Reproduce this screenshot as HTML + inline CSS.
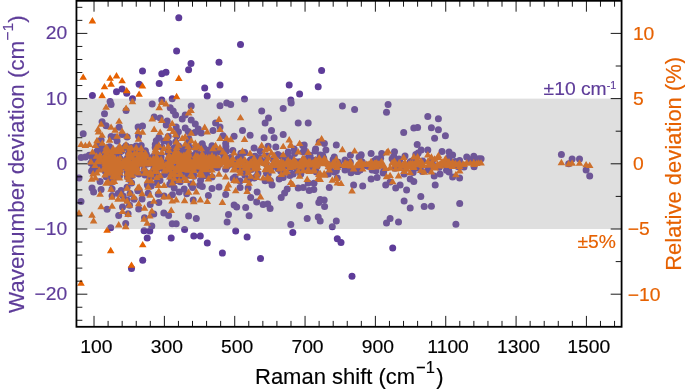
<!DOCTYPE html>
<html><head><meta charset="utf-8"><title>Raman shift deviation</title>
<style>html,body{margin:0;padding:0;background:#fff}body{width:685px;height:389px;overflow:hidden}</style></head>
<body>
<svg width="685" height="389" viewBox="0 0 685 389" style="display:block">
<rect width="685" height="389" fill="#fff"/>
<clipPath id="cp"><rect x="76.45" y="0.80" width="545.13" height="326.00"/></clipPath>
<g clip-path="url(#cp)">
<g fill="#5e3c99">
<circle cx="92.4" cy="95.6" r="3.5"/>
<circle cx="116.5" cy="91.7" r="3.5"/>
<circle cx="83.2" cy="133.8" r="3.5"/>
<circle cx="110.1" cy="101.4" r="3.5"/>
<circle cx="122.1" cy="89.0" r="3.5"/>
<circle cx="111.1" cy="104.6" r="3.5"/>
<circle cx="104.5" cy="113.8" r="3.5"/>
<circle cx="126.7" cy="93.3" r="3.5"/>
<circle cx="102.1" cy="121.8" r="3.5"/>
<circle cx="106.1" cy="125.7" r="3.5"/>
<circle cx="126.1" cy="110.5" r="3.5"/>
<circle cx="119.1" cy="127.3" r="3.5"/>
<circle cx="101.1" cy="140.0" r="3.5"/>
<circle cx="98.1" cy="144.5" r="3.5"/>
<circle cx="111.1" cy="136.6" r="3.5"/>
<circle cx="115.1" cy="136.9" r="3.5"/>
<circle cx="122.1" cy="134.4" r="3.5"/>
<circle cx="102.1" cy="146.2" r="3.5"/>
<circle cx="117.1" cy="140.9" r="3.5"/>
<circle cx="127.1" cy="137.0" r="3.5"/>
<circle cx="79.0" cy="177.9" r="3.5"/>
<circle cx="92.0" cy="188.0" r="3.5"/>
<circle cx="93.6" cy="191.9" r="3.5"/>
<circle cx="101.1" cy="189.5" r="3.5"/>
<circle cx="112.1" cy="195.8" r="3.5"/>
<circle cx="100.1" cy="181.5" r="3.5"/>
<circle cx="107.1" cy="209.2" r="3.5"/>
<circle cx="118.7" cy="215.6" r="3.5"/>
<circle cx="125.7" cy="223.4" r="3.5"/>
<circle cx="122.5" cy="206.9" r="3.5"/>
<circle cx="128.1" cy="213.7" r="3.5"/>
<circle cx="110.7" cy="227.7" r="3.5"/>
<circle cx="127.1" cy="199.9" r="3.5"/>
<circle cx="123.1" cy="196.0" r="3.5"/>
<circle cx="118.1" cy="193.5" r="3.5"/>
<circle cx="112.1" cy="188.9" r="3.5"/>
<circle cx="121.1" cy="190.5" r="3.5"/>
<circle cx="111.1" cy="182.5" r="3.5"/>
<circle cx="127.1" cy="187.3" r="3.5"/>
<circle cx="81.0" cy="201.4" r="3.5"/>
<circle cx="81.1" cy="157.6" r="3.5"/>
<circle cx="85.4" cy="156.9" r="3.5"/>
<circle cx="89.3" cy="155.3" r="3.5"/>
<circle cx="97.0" cy="151.2" r="3.5"/>
<circle cx="95.4" cy="154.2" r="3.5"/>
<circle cx="102.4" cy="151.0" r="3.5"/>
<circle cx="98.5" cy="145.8" r="3.5"/>
<circle cx="91.6" cy="170.9" r="3.5"/>
<circle cx="95.4" cy="171.1" r="3.5"/>
<circle cx="178.8" cy="17.8" r="3.5"/>
<circle cx="176.6" cy="51.1" r="3.5"/>
<circle cx="191.0" cy="63.5" r="3.5"/>
<circle cx="188.6" cy="69.7" r="3.5"/>
<circle cx="142.5" cy="71.1" r="3.5"/>
<circle cx="166.0" cy="72.3" r="3.5"/>
<circle cx="161.8" cy="73.7" r="3.5"/>
<circle cx="139.1" cy="84.2" r="3.5"/>
<circle cx="159.2" cy="83.6" r="3.5"/>
<circle cx="204.7" cy="88.1" r="3.5"/>
<circle cx="132.5" cy="98.7" r="3.5"/>
<circle cx="161.8" cy="100.1" r="3.5"/>
<circle cx="172.2" cy="98.7" r="3.5"/>
<circle cx="152.2" cy="104.1" r="3.5"/>
<circle cx="191.2" cy="106.1" r="3.5"/>
<circle cx="170.2" cy="107.7" r="3.5"/>
<circle cx="173.2" cy="111.1" r="3.5"/>
<circle cx="175.6" cy="115.1" r="3.5"/>
<circle cx="182.2" cy="119.1" r="3.5"/>
<circle cx="185.2" cy="115.1" r="3.5"/>
<circle cx="154.2" cy="117.1" r="3.5"/>
<circle cx="160.2" cy="118.1" r="3.5"/>
<circle cx="167.2" cy="121.1" r="3.5"/>
<circle cx="166.2" cy="125.1" r="3.5"/>
<circle cx="191.2" cy="120.1" r="3.5"/>
<circle cx="195.3" cy="124.1" r="3.5"/>
<circle cx="198.3" cy="129.1" r="3.5"/>
<circle cx="138.1" cy="127.1" r="3.5"/>
<circle cx="142.5" cy="126.1" r="3.5"/>
<circle cx="176.2" cy="127.1" r="3.5"/>
<circle cx="185.2" cy="128.1" r="3.5"/>
<circle cx="201.3" cy="133.1" r="3.5"/>
<circle cx="240.5" cy="44.5" r="3.5"/>
<circle cx="219.0" cy="62.3" r="3.5"/>
<circle cx="321.6" cy="70.5" r="3.5"/>
<circle cx="220.0" cy="85.1" r="3.5"/>
<circle cx="207.2" cy="96.1" r="3.5"/>
<circle cx="289.2" cy="85.1" r="3.5"/>
<circle cx="318.2" cy="86.7" r="3.5"/>
<circle cx="299.6" cy="94.1" r="3.5"/>
<circle cx="244.5" cy="99.1" r="3.5"/>
<circle cx="290.8" cy="100.1" r="3.5"/>
<circle cx="291.2" cy="103.1" r="3.5"/>
<circle cx="226.7" cy="103.1" r="3.5"/>
<circle cx="230.7" cy="104.5" r="3.5"/>
<circle cx="220.0" cy="105.7" r="3.5"/>
<circle cx="283.2" cy="108.5" r="3.5"/>
<circle cx="261.7" cy="111.1" r="3.5"/>
<circle cx="268.5" cy="118.1" r="3.5"/>
<circle cx="265.1" cy="123.1" r="3.5"/>
<circle cx="215.6" cy="123.1" r="3.5"/>
<circle cx="298.2" cy="123.1" r="3.5"/>
<circle cx="308.2" cy="123.1" r="3.5"/>
<circle cx="213.0" cy="130.5" r="3.5"/>
<circle cx="242.5" cy="130.5" r="3.5"/>
<circle cx="271.5" cy="130.5" r="3.5"/>
<circle cx="250.1" cy="135.2" r="3.5"/>
<circle cx="283.2" cy="134.5" r="3.5"/>
<circle cx="234.1" cy="136.2" r="3.5"/>
<circle cx="223.0" cy="135.8" r="3.5"/>
<circle cx="264.1" cy="137.8" r="3.5"/>
<circle cx="274.1" cy="137.8" r="3.5"/>
<circle cx="342.4" cy="106.1" r="3.5"/>
<circle cx="354.6" cy="109.5" r="3.5"/>
<circle cx="388.1" cy="104.5" r="3.5"/>
<circle cx="386.5" cy="112.3" r="3.5"/>
<circle cx="427.8" cy="116.5" r="3.5"/>
<circle cx="438.4" cy="118.7" r="3.5"/>
<circle cx="413.8" cy="128.1" r="3.5"/>
<circle cx="417.6" cy="127.5" r="3.5"/>
<circle cx="431.4" cy="127.7" r="3.5"/>
<circle cx="438.4" cy="129.7" r="3.5"/>
<circle cx="403.7" cy="132.5" r="3.5"/>
<circle cx="445.4" cy="135.8" r="3.5"/>
<circle cx="434.6" cy="138.2" r="3.5"/>
<circle cx="138.7" cy="209.0" r="3.5"/>
<circle cx="150.2" cy="204.4" r="3.5"/>
<circle cx="158.8" cy="202.6" r="3.5"/>
<circle cx="142.1" cy="199.0" r="3.5"/>
<circle cx="153.8" cy="214.1" r="3.5"/>
<circle cx="163.8" cy="213.1" r="3.5"/>
<circle cx="168.6" cy="215.5" r="3.5"/>
<circle cx="172.2" cy="223.7" r="3.5"/>
<circle cx="176.2" cy="223.7" r="3.5"/>
<circle cx="151.8" cy="226.1" r="3.5"/>
<circle cx="144.1" cy="230.7" r="3.5"/>
<circle cx="149.8" cy="231.1" r="3.5"/>
<circle cx="147.2" cy="238.1" r="3.5"/>
<circle cx="171.2" cy="238.1" r="3.5"/>
<circle cx="184.6" cy="229.5" r="3.5"/>
<circle cx="188.6" cy="216.1" r="3.5"/>
<circle cx="196.3" cy="218.5" r="3.5"/>
<circle cx="193.8" cy="236.1" r="3.5"/>
<circle cx="200.3" cy="236.1" r="3.5"/>
<circle cx="142.7" cy="260.2" r="3.5"/>
<circle cx="207.3" cy="243.1" r="3.5"/>
<circle cx="174.2" cy="188.0" r="3.5"/>
<circle cx="179.2" cy="192.0" r="3.5"/>
<circle cx="184.2" cy="189.0" r="3.5"/>
<circle cx="192.6" cy="187.4" r="3.5"/>
<circle cx="202.3" cy="186.6" r="3.5"/>
<circle cx="193.2" cy="200.0" r="3.5"/>
<circle cx="131.5" cy="268.4" r="3.5"/>
<circle cx="212.0" cy="188.6" r="3.5"/>
<circle cx="219.0" cy="187.0" r="3.5"/>
<circle cx="208.4" cy="195.4" r="3.5"/>
<circle cx="225.7" cy="194.6" r="3.5"/>
<circle cx="240.1" cy="187.4" r="3.5"/>
<circle cx="248.1" cy="188.0" r="3.5"/>
<circle cx="257.1" cy="192.0" r="3.5"/>
<circle cx="250.7" cy="197.4" r="3.5"/>
<circle cx="256.7" cy="202.0" r="3.5"/>
<circle cx="263.1" cy="204.6" r="3.5"/>
<circle cx="267.7" cy="204.0" r="3.5"/>
<circle cx="270.1" cy="208.6" r="3.5"/>
<circle cx="234.1" cy="205.0" r="3.5"/>
<circle cx="236.7" cy="207.0" r="3.5"/>
<circle cx="245.7" cy="207.6" r="3.5"/>
<circle cx="228.5" cy="214.5" r="3.5"/>
<circle cx="249.1" cy="215.7" r="3.5"/>
<circle cx="227.1" cy="222.1" r="3.5"/>
<circle cx="235.7" cy="231.1" r="3.5"/>
<circle cx="247.1" cy="237.1" r="3.5"/>
<circle cx="222.4" cy="253.1" r="3.5"/>
<circle cx="260.5" cy="258.5" r="3.5"/>
<circle cx="281.2" cy="197.4" r="3.5"/>
<circle cx="284.6" cy="193.0" r="3.5"/>
<circle cx="287.2" cy="189.0" r="3.5"/>
<circle cx="299.6" cy="205.6" r="3.5"/>
<circle cx="298.2" cy="188.0" r="3.5"/>
<circle cx="303.2" cy="187.4" r="3.5"/>
<circle cx="309.2" cy="190.6" r="3.5"/>
<circle cx="313.8" cy="189.4" r="3.5"/>
<circle cx="329.3" cy="187.4" r="3.5"/>
<circle cx="318.8" cy="202.6" r="3.5"/>
<circle cx="324.2" cy="200.0" r="3.5"/>
<circle cx="324.6" cy="206.6" r="3.5"/>
<circle cx="307.2" cy="218.5" r="3.5"/>
<circle cx="318.2" cy="217.1" r="3.5"/>
<circle cx="320.2" cy="221.1" r="3.5"/>
<circle cx="290.8" cy="224.5" r="3.5"/>
<circle cx="292.8" cy="232.5" r="3.5"/>
<circle cx="332.3" cy="226.7" r="3.5"/>
<circle cx="336.3" cy="221.1" r="3.5"/>
<circle cx="337.3" cy="238.7" r="3.5"/>
<circle cx="272.1" cy="185.0" r="3.5"/>
<circle cx="353.6" cy="185.0" r="3.5"/>
<circle cx="362.7" cy="186.0" r="3.5"/>
<circle cx="385.7" cy="185.0" r="3.5"/>
<circle cx="395.7" cy="188.0" r="3.5"/>
<circle cx="400.1" cy="185.0" r="3.5"/>
<circle cx="406.6" cy="190.0" r="3.5"/>
<circle cx="420.8" cy="196.6" r="3.5"/>
<circle cx="404.1" cy="201.0" r="3.5"/>
<circle cx="410.2" cy="208.0" r="3.5"/>
<circle cx="424.2" cy="206.6" r="3.5"/>
<circle cx="431.4" cy="206.2" r="3.5"/>
<circle cx="459.7" cy="203.6" r="3.5"/>
<circle cx="390.1" cy="218.5" r="3.5"/>
<circle cx="386.5" cy="223.1" r="3.5"/>
<circle cx="398.5" cy="221.9" r="3.5"/>
<circle cx="455.9" cy="224.3" r="3.5"/>
<circle cx="341.0" cy="242.5" r="3.5"/>
<circle cx="392.7" cy="248.1" r="3.5"/>
<circle cx="435.2" cy="185.0" r="3.5"/>
<circle cx="352.0" cy="276.3" r="3.5"/>
<circle cx="442.0" cy="151.6" r="3.5"/>
<circle cx="449.0" cy="152.0" r="3.5"/>
<circle cx="452.6" cy="155.1" r="3.5"/>
<circle cx="459.6" cy="160.5" r="3.5"/>
<circle cx="466.7" cy="157.1" r="3.5"/>
<circle cx="476.7" cy="160.5" r="3.5"/>
<circle cx="481.1" cy="158.7" r="3.5"/>
<circle cx="474.1" cy="166.7" r="3.5"/>
<circle cx="464.0" cy="167.1" r="3.5"/>
<circle cx="449.0" cy="172.1" r="3.5"/>
<circle cx="452.6" cy="177.1" r="3.5"/>
<circle cx="459.6" cy="178.1" r="3.5"/>
<circle cx="440.0" cy="174.1" r="3.5"/>
<circle cx="561.4" cy="154.6" r="3.5"/>
<circle cx="572.1" cy="159.1" r="3.5"/>
<circle cx="568.7" cy="163.7" r="3.5"/>
<circle cx="579.5" cy="159.1" r="3.5"/>
<circle cx="586.1" cy="170.1" r="3.5"/>
<circle cx="589.7" cy="176.1" r="3.5"/>
<circle cx="220.0" cy="127.0" r="3.5"/>
<circle cx="225.7" cy="143.4" r="3.5"/>
<circle cx="304.2" cy="145.0" r="3.5"/>
<circle cx="319.2" cy="142.0" r="3.5"/>
<circle cx="294.2" cy="149.0" r="3.5"/>
<circle cx="325.9" cy="150.1" r="3.5"/>
<circle cx="336.3" cy="145.0" r="3.5"/>
<circle cx="275.8" cy="147.0" r="3.5"/>
<circle cx="254.1" cy="148.0" r="3.5"/>
<circle cx="260.1" cy="151.1" r="3.5"/>
<circle cx="209.0" cy="150.1" r="3.5"/>
<circle cx="219.0" cy="152.1" r="3.5"/>
<circle cx="315.2" cy="151.1" r="3.5"/>
<circle cx="320.2" cy="155.1" r="3.5"/>
<circle cx="235.1" cy="177.1" r="3.5"/>
<circle cx="240.1" cy="181.1" r="3.5"/>
<circle cx="265.1" cy="180.7" r="3.5"/>
<circle cx="279.2" cy="179.1" r="3.5"/>
<circle cx="283.2" cy="177.5" r="3.5"/>
<circle cx="308.2" cy="183.1" r="3.5"/>
<circle cx="320.2" cy="199.5" r="3.5"/>
<circle cx="293.2" cy="174.1" r="3.5"/>
<circle cx="254.1" cy="178.1" r="3.5"/>
<circle cx="212.0" cy="177.1" r="3.5"/>
<circle cx="203.0" cy="173.1" r="3.5"/>
<circle cx="337.3" cy="178.1" r="3.5"/>
<circle cx="328.3" cy="174.1" r="3.5"/>
<circle cx="334.3" cy="157.1" r="3.5"/>
<circle cx="417.2" cy="144.6" r="3.5"/>
<circle cx="421.2" cy="150.1" r="3.5"/>
<circle cx="427.8" cy="150.1" r="3.5"/>
<circle cx="371.1" cy="153.5" r="3.5"/>
<circle cx="361.1" cy="154.7" r="3.5"/>
<circle cx="381.7" cy="153.5" r="3.5"/>
<circle cx="394.5" cy="151.7" r="3.5"/>
<circle cx="399.1" cy="159.1" r="3.5"/>
<circle cx="418.2" cy="153.1" r="3.5"/>
<circle cx="371.1" cy="179.1" r="3.5"/>
<circle cx="377.1" cy="177.5" r="3.5"/>
<circle cx="390.1" cy="182.1" r="3.5"/>
<circle cx="410.2" cy="179.1" r="3.5"/>
<circle cx="413.8" cy="181.5" r="3.5"/>
<circle cx="434.2" cy="176.1" r="3.5"/>
<circle cx="345.0" cy="170.1" r="3.5"/>
<circle cx="351.0" cy="172.7" r="3.5"/>
<circle cx="334.4" cy="172.1" r="3.5"/>
<circle cx="357.1" cy="171.5" r="3.5"/>
<circle cx="372.1" cy="170.1" r="3.5"/>
<circle cx="383.1" cy="173.1" r="3.5"/>
<circle cx="404.1" cy="174.1" r="3.5"/>
<circle cx="428.2" cy="170.1" r="3.5"/>
<circle cx="129.5" cy="205.2" r="3.5"/>
<circle cx="144.5" cy="217.7" r="3.5"/>
<circle cx="134.1" cy="199.3" r="3.5"/>
<circle cx="130.1" cy="193.4" r="3.5"/>
<circle cx="139.1" cy="190.3" r="3.5"/>
<circle cx="148.2" cy="193.3" r="3.5"/>
<circle cx="456.0" cy="165.3" r="3.5"/>
<circle cx="95.1" cy="164.5" r="3.5"/>
<circle cx="98.1" cy="161.9" r="3.5"/>
<circle cx="91.0" cy="162.9" r="3.5"/>
<circle cx="96.5" cy="159.6" r="3.5"/>
<circle cx="99.3" cy="167.3" r="3.5"/>
<circle cx="104.3" cy="166.1" r="3.5"/>
<circle cx="92.5" cy="158.1" r="3.5"/>
<circle cx="93.1" cy="168.6" r="3.5"/>
<circle cx="98.2" cy="162.5" r="3.5"/>
<circle cx="100.1" cy="158.8" r="3.5"/>
<circle cx="96.9" cy="168.7" r="3.5"/>
<circle cx="100.8" cy="161.5" r="3.5"/>
<circle cx="147.2" cy="163.9" r="3.5"/>
<circle cx="120.1" cy="158.7" r="3.5"/>
<circle cx="182.6" cy="152.4" r="3.5"/>
<circle cx="175.5" cy="173.2" r="3.5"/>
<circle cx="163.7" cy="141.0" r="3.5"/>
<circle cx="188.4" cy="170.1" r="3.5"/>
<circle cx="106.9" cy="160.9" r="3.5"/>
<circle cx="110.6" cy="157.8" r="3.5"/>
<circle cx="144.5" cy="153.5" r="3.5"/>
<circle cx="112.8" cy="166.5" r="3.5"/>
<circle cx="188.1" cy="165.9" r="3.5"/>
<circle cx="141.2" cy="145.5" r="3.5"/>
<circle cx="202.3" cy="160.7" r="3.5"/>
<circle cx="128.4" cy="172.5" r="3.5"/>
<circle cx="105.0" cy="167.1" r="3.5"/>
<circle cx="201.8" cy="146.8" r="3.5"/>
<circle cx="157.2" cy="165.3" r="3.5"/>
<circle cx="196.3" cy="167.9" r="3.5"/>
<circle cx="193.8" cy="176.2" r="3.5"/>
<circle cx="115.1" cy="159.3" r="3.5"/>
<circle cx="125.9" cy="164.3" r="3.5"/>
<circle cx="104.6" cy="160.1" r="3.5"/>
<circle cx="107.2" cy="167.6" r="3.5"/>
<circle cx="130.3" cy="165.3" r="3.5"/>
<circle cx="141.7" cy="150.8" r="3.5"/>
<circle cx="113.3" cy="160.0" r="3.5"/>
<circle cx="189.1" cy="147.0" r="3.5"/>
<circle cx="158.5" cy="160.5" r="3.5"/>
<circle cx="160.0" cy="180.6" r="3.5"/>
<circle cx="192.6" cy="171.1" r="3.5"/>
<circle cx="131.2" cy="157.2" r="3.5"/>
<circle cx="158.9" cy="137.5" r="3.5"/>
<circle cx="138.2" cy="155.7" r="3.5"/>
<circle cx="188.1" cy="159.8" r="3.5"/>
<circle cx="140.9" cy="155.0" r="3.5"/>
<circle cx="107.4" cy="156.4" r="3.5"/>
<circle cx="202.1" cy="144.9" r="3.5"/>
<circle cx="202.0" cy="170.3" r="3.5"/>
<circle cx="127.1" cy="159.1" r="3.5"/>
<circle cx="168.2" cy="152.4" r="3.5"/>
<circle cx="171.2" cy="179.1" r="3.5"/>
<circle cx="113.2" cy="173.7" r="3.5"/>
<circle cx="181.1" cy="149.8" r="3.5"/>
<circle cx="138.5" cy="135.9" r="3.5"/>
<circle cx="203.7" cy="175.7" r="3.5"/>
<circle cx="178.5" cy="153.7" r="3.5"/>
<circle cx="117.5" cy="168.8" r="3.5"/>
<circle cx="119.5" cy="165.5" r="3.5"/>
<circle cx="140.3" cy="160.9" r="3.5"/>
<circle cx="203.6" cy="160.7" r="3.5"/>
<circle cx="158.3" cy="194.2" r="3.5"/>
<circle cx="188.8" cy="157.5" r="3.5"/>
<circle cx="130.3" cy="162.3" r="3.5"/>
<circle cx="131.0" cy="154.2" r="3.5"/>
<circle cx="118.0" cy="152.6" r="3.5"/>
<circle cx="164.1" cy="196.1" r="3.5"/>
<circle cx="155.8" cy="144.7" r="3.5"/>
<circle cx="158.0" cy="166.7" r="3.5"/>
<circle cx="105.0" cy="158.4" r="3.5"/>
<circle cx="178.6" cy="145.9" r="3.5"/>
<circle cx="137.8" cy="190.7" r="3.5"/>
<circle cx="115.4" cy="163.2" r="3.5"/>
<circle cx="183.4" cy="149.2" r="3.5"/>
<circle cx="161.9" cy="147.2" r="3.5"/>
<circle cx="167.1" cy="172.4" r="3.5"/>
<circle cx="156.8" cy="182.8" r="3.5"/>
<circle cx="153.3" cy="156.6" r="3.5"/>
<circle cx="175.9" cy="150.5" r="3.5"/>
<circle cx="161.7" cy="167.5" r="3.5"/>
<circle cx="190.3" cy="157.7" r="3.5"/>
<circle cx="112.0" cy="156.7" r="3.5"/>
<circle cx="184.5" cy="151.6" r="3.5"/>
<circle cx="120.3" cy="169.1" r="3.5"/>
<circle cx="194.6" cy="154.9" r="3.5"/>
<circle cx="205.5" cy="153.3" r="3.5"/>
<circle cx="157.2" cy="156.9" r="3.5"/>
<circle cx="124.6" cy="164.4" r="3.5"/>
<circle cx="161.1" cy="157.0" r="3.5"/>
<circle cx="168.2" cy="161.1" r="3.5"/>
<circle cx="115.3" cy="161.0" r="3.5"/>
<circle cx="132.2" cy="175.5" r="3.5"/>
<circle cx="188.1" cy="156.1" r="3.5"/>
<circle cx="119.8" cy="171.5" r="3.5"/>
<circle cx="113.7" cy="168.2" r="3.5"/>
<circle cx="112.0" cy="177.9" r="3.5"/>
<circle cx="113.1" cy="154.3" r="3.5"/>
<circle cx="150.9" cy="176.9" r="3.5"/>
<circle cx="131.9" cy="167.7" r="3.5"/>
<circle cx="158.3" cy="159.8" r="3.5"/>
<circle cx="109.7" cy="164.9" r="3.5"/>
<circle cx="182.0" cy="157.7" r="3.5"/>
<circle cx="155.6" cy="163.5" r="3.5"/>
<circle cx="130.1" cy="161.8" r="3.5"/>
<circle cx="179.4" cy="155.7" r="3.5"/>
<circle cx="199.9" cy="156.0" r="3.5"/>
<circle cx="188.1" cy="175.2" r="3.5"/>
<circle cx="144.7" cy="161.8" r="3.5"/>
<circle cx="174.7" cy="180.4" r="3.5"/>
<circle cx="176.7" cy="136.1" r="3.5"/>
<circle cx="145.9" cy="159.6" r="3.5"/>
<circle cx="111.8" cy="163.5" r="3.5"/>
<circle cx="113.2" cy="152.0" r="3.5"/>
<circle cx="133.3" cy="169.9" r="3.5"/>
<circle cx="134.5" cy="152.7" r="3.5"/>
<circle cx="131.4" cy="147.4" r="3.5"/>
<circle cx="203.8" cy="161.3" r="3.5"/>
<circle cx="136.2" cy="145.9" r="3.5"/>
<circle cx="104.7" cy="162.6" r="3.5"/>
<circle cx="125.1" cy="162.9" r="3.5"/>
<circle cx="113.7" cy="163.0" r="3.5"/>
<circle cx="135.6" cy="169.7" r="3.5"/>
<circle cx="181.1" cy="173.5" r="3.5"/>
<circle cx="177.6" cy="174.4" r="3.5"/>
<circle cx="205.0" cy="159.1" r="3.5"/>
<circle cx="178.4" cy="131.8" r="3.5"/>
<circle cx="195.6" cy="154.1" r="3.5"/>
<circle cx="179.4" cy="149.6" r="3.5"/>
<circle cx="156.0" cy="147.0" r="3.5"/>
<circle cx="186.7" cy="193.8" r="3.5"/>
<circle cx="174.2" cy="180.9" r="3.5"/>
<circle cx="128.0" cy="158.7" r="3.5"/>
<circle cx="115.3" cy="169.1" r="3.5"/>
<circle cx="168.5" cy="164.2" r="3.5"/>
<circle cx="185.9" cy="162.7" r="3.5"/>
<circle cx="155.9" cy="166.2" r="3.5"/>
<circle cx="179.7" cy="164.9" r="3.5"/>
<circle cx="112.2" cy="166.6" r="3.5"/>
<circle cx="180.0" cy="179.5" r="3.5"/>
<circle cx="153.4" cy="162.2" r="3.5"/>
<circle cx="182.8" cy="167.1" r="3.5"/>
<circle cx="119.6" cy="163.4" r="3.5"/>
<circle cx="162.5" cy="168.4" r="3.5"/>
<circle cx="110.8" cy="169.8" r="3.5"/>
<circle cx="173.5" cy="170.1" r="3.5"/>
<circle cx="152.1" cy="163.6" r="3.5"/>
<circle cx="195.7" cy="147.7" r="3.5"/>
<circle cx="106.4" cy="152.5" r="3.5"/>
<circle cx="150.4" cy="178.3" r="3.5"/>
<circle cx="126.0" cy="145.7" r="3.5"/>
<circle cx="119.0" cy="165.2" r="3.5"/>
<circle cx="188.2" cy="142.8" r="3.5"/>
<circle cx="128.2" cy="166.3" r="3.5"/>
<circle cx="105.0" cy="171.0" r="3.5"/>
<circle cx="118.9" cy="167.5" r="3.5"/>
<circle cx="104.8" cy="160.9" r="3.5"/>
<circle cx="199.1" cy="170.1" r="3.5"/>
<circle cx="196.5" cy="167.3" r="3.5"/>
<circle cx="206.5" cy="150.6" r="3.5"/>
<circle cx="141.4" cy="163.1" r="3.5"/>
<circle cx="115.0" cy="169.2" r="3.5"/>
<circle cx="130.0" cy="147.9" r="3.5"/>
<circle cx="156.7" cy="174.2" r="3.5"/>
<circle cx="194.8" cy="132.5" r="3.5"/>
<circle cx="168.9" cy="142.9" r="3.5"/>
<circle cx="178.0" cy="165.8" r="3.5"/>
<circle cx="179.3" cy="162.4" r="3.5"/>
<circle cx="133.8" cy="172.2" r="3.5"/>
<circle cx="199.1" cy="168.7" r="3.5"/>
<circle cx="135.0" cy="160.1" r="3.5"/>
<circle cx="204.2" cy="165.9" r="3.5"/>
<circle cx="161.4" cy="167.4" r="3.5"/>
<circle cx="121.7" cy="151.0" r="3.5"/>
<circle cx="155.3" cy="144.6" r="3.5"/>
<circle cx="150.5" cy="175.0" r="3.5"/>
<circle cx="124.2" cy="161.0" r="3.5"/>
<circle cx="129.0" cy="168.9" r="3.5"/>
<circle cx="181.0" cy="169.6" r="3.5"/>
<circle cx="143.0" cy="158.7" r="3.5"/>
<circle cx="110.9" cy="163.8" r="3.5"/>
<circle cx="155.9" cy="155.1" r="3.5"/>
<circle cx="132.2" cy="166.3" r="3.5"/>
<circle cx="145.4" cy="150.7" r="3.5"/>
<circle cx="193.6" cy="166.4" r="3.5"/>
<circle cx="107.9" cy="170.2" r="3.5"/>
<circle cx="164.5" cy="174.4" r="3.5"/>
<circle cx="188.8" cy="138.4" r="3.5"/>
<circle cx="203.7" cy="159.9" r="3.5"/>
<circle cx="157.9" cy="156.6" r="3.5"/>
<circle cx="200.6" cy="180.2" r="3.5"/>
<circle cx="151.2" cy="185.9" r="3.5"/>
<circle cx="170.4" cy="159.4" r="3.5"/>
<circle cx="169.5" cy="153.5" r="3.5"/>
<circle cx="116.0" cy="164.3" r="3.5"/>
<circle cx="144.2" cy="163.6" r="3.5"/>
<circle cx="135.3" cy="164.3" r="3.5"/>
<circle cx="202.4" cy="148.5" r="3.5"/>
<circle cx="128.5" cy="153.4" r="3.5"/>
<circle cx="135.9" cy="165.3" r="3.5"/>
<circle cx="155.4" cy="174.3" r="3.5"/>
<circle cx="172.7" cy="156.5" r="3.5"/>
<circle cx="127.7" cy="157.5" r="3.5"/>
<circle cx="174.2" cy="159.7" r="3.5"/>
<circle cx="156.1" cy="173.0" r="3.5"/>
<circle cx="203.5" cy="160.8" r="3.5"/>
<circle cx="127.2" cy="172.7" r="3.5"/>
<circle cx="155.2" cy="147.4" r="3.5"/>
<circle cx="127.4" cy="176.5" r="3.5"/>
<circle cx="119.5" cy="148.4" r="3.5"/>
<circle cx="119.1" cy="161.2" r="3.5"/>
<circle cx="196.2" cy="169.2" r="3.5"/>
<circle cx="199.6" cy="185.3" r="3.5"/>
<circle cx="123.5" cy="166.6" r="3.5"/>
<circle cx="172.4" cy="166.9" r="3.5"/>
<circle cx="121.8" cy="164.2" r="3.5"/>
<circle cx="202.0" cy="156.9" r="3.5"/>
<circle cx="202.9" cy="170.3" r="3.5"/>
<circle cx="188.4" cy="153.3" r="3.5"/>
<circle cx="109.6" cy="146.7" r="3.5"/>
<circle cx="124.3" cy="164.1" r="3.5"/>
<circle cx="146.5" cy="162.3" r="3.5"/>
<circle cx="108.1" cy="160.3" r="3.5"/>
<circle cx="180.8" cy="169.1" r="3.5"/>
<circle cx="139.2" cy="154.1" r="3.5"/>
<circle cx="131.3" cy="169.0" r="3.5"/>
<circle cx="136.9" cy="151.9" r="3.5"/>
<circle cx="198.1" cy="162.1" r="3.5"/>
<circle cx="200.8" cy="162.1" r="3.5"/>
<circle cx="202.2" cy="143.7" r="3.5"/>
<circle cx="144.0" cy="169.7" r="3.5"/>
<circle cx="199.2" cy="159.6" r="3.5"/>
<circle cx="186.4" cy="149.9" r="3.5"/>
<circle cx="166.5" cy="172.9" r="3.5"/>
<circle cx="137.2" cy="162.3" r="3.5"/>
<circle cx="124.7" cy="163.1" r="3.5"/>
<circle cx="108.0" cy="176.2" r="3.5"/>
<circle cx="131.6" cy="156.5" r="3.5"/>
<circle cx="177.0" cy="158.5" r="3.5"/>
<circle cx="128.5" cy="169.8" r="3.5"/>
<circle cx="180.9" cy="167.2" r="3.5"/>
<circle cx="190.3" cy="165.7" r="3.5"/>
<circle cx="162.4" cy="163.1" r="3.5"/>
<circle cx="129.8" cy="167.2" r="3.5"/>
<circle cx="120.2" cy="168.5" r="3.5"/>
<circle cx="145.0" cy="175.1" r="3.5"/>
<circle cx="187.0" cy="163.4" r="3.5"/>
<circle cx="205.7" cy="174.7" r="3.5"/>
<circle cx="190.3" cy="157.9" r="3.5"/>
<circle cx="108.7" cy="161.3" r="3.5"/>
<circle cx="203.8" cy="148.0" r="3.5"/>
<circle cx="192.9" cy="165.5" r="3.5"/>
<circle cx="131.1" cy="155.3" r="3.5"/>
<circle cx="165.4" cy="165.5" r="3.5"/>
<circle cx="126.8" cy="159.9" r="3.5"/>
<circle cx="130.6" cy="169.4" r="3.5"/>
<circle cx="105.7" cy="164.6" r="3.5"/>
<circle cx="136.4" cy="166.6" r="3.5"/>
<circle cx="185.7" cy="155.6" r="3.5"/>
<circle cx="144.9" cy="159.8" r="3.5"/>
<circle cx="169.8" cy="157.6" r="3.5"/>
<circle cx="146.4" cy="154.2" r="3.5"/>
<circle cx="136.0" cy="171.2" r="3.5"/>
<circle cx="141.0" cy="155.0" r="3.5"/>
<circle cx="192.7" cy="170.2" r="3.5"/>
<circle cx="178.8" cy="159.6" r="3.5"/>
<circle cx="105.2" cy="155.3" r="3.5"/>
<circle cx="146.0" cy="172.6" r="3.5"/>
<circle cx="106.1" cy="176.8" r="3.5"/>
<circle cx="113.7" cy="172.4" r="3.5"/>
<circle cx="119.5" cy="175.9" r="3.5"/>
<circle cx="115.7" cy="153.1" r="3.5"/>
<circle cx="124.7" cy="147.6" r="3.5"/>
<circle cx="153.8" cy="169.0" r="3.5"/>
<circle cx="199.0" cy="155.3" r="3.5"/>
<circle cx="188.7" cy="168.0" r="3.5"/>
<circle cx="184.7" cy="173.2" r="3.5"/>
<circle cx="189.2" cy="155.7" r="3.5"/>
<circle cx="126.8" cy="163.9" r="3.5"/>
<circle cx="117.1" cy="174.6" r="3.5"/>
<circle cx="108.8" cy="166.2" r="3.5"/>
<circle cx="190.1" cy="169.5" r="3.5"/>
<circle cx="168.5" cy="167.6" r="3.5"/>
<circle cx="147.4" cy="185.0" r="3.5"/>
<circle cx="150.2" cy="158.5" r="3.5"/>
<circle cx="107.0" cy="162.9" r="3.5"/>
<circle cx="182.5" cy="173.1" r="3.5"/>
<circle cx="152.9" cy="161.8" r="3.5"/>
<circle cx="117.7" cy="160.0" r="3.5"/>
<circle cx="156.6" cy="164.6" r="3.5"/>
<circle cx="179.4" cy="168.1" r="3.5"/>
<circle cx="156.8" cy="169.2" r="3.5"/>
<circle cx="201.6" cy="163.0" r="3.5"/>
<circle cx="192.0" cy="166.3" r="3.5"/>
<circle cx="198.0" cy="162.0" r="3.5"/>
<circle cx="185.0" cy="148.4" r="3.5"/>
<circle cx="181.7" cy="160.4" r="3.5"/>
<circle cx="196.0" cy="161.4" r="3.5"/>
<circle cx="155.8" cy="171.5" r="3.5"/>
<circle cx="125.8" cy="163.4" r="3.5"/>
<circle cx="108.3" cy="154.2" r="3.5"/>
<circle cx="173.9" cy="148.3" r="3.5"/>
<circle cx="116.3" cy="170.5" r="3.5"/>
<circle cx="193.6" cy="174.9" r="3.5"/>
<circle cx="168.8" cy="150.3" r="3.5"/>
<circle cx="185.9" cy="154.3" r="3.5"/>
<circle cx="141.3" cy="164.1" r="3.5"/>
<circle cx="149.7" cy="162.9" r="3.5"/>
<circle cx="188.2" cy="164.9" r="3.5"/>
<circle cx="169.8" cy="184.3" r="3.5"/>
<circle cx="136.5" cy="167.8" r="3.5"/>
<circle cx="108.0" cy="166.6" r="3.5"/>
<circle cx="156.9" cy="154.6" r="3.5"/>
<circle cx="171.2" cy="159.4" r="3.5"/>
<circle cx="104.9" cy="160.9" r="3.5"/>
<circle cx="127.5" cy="168.2" r="3.5"/>
<circle cx="168.2" cy="136.4" r="3.5"/>
<circle cx="129.4" cy="151.4" r="3.5"/>
<circle cx="114.4" cy="177.6" r="3.5"/>
<circle cx="145.6" cy="153.5" r="3.5"/>
<circle cx="161.9" cy="162.1" r="3.5"/>
<circle cx="170.4" cy="153.0" r="3.5"/>
<circle cx="129.9" cy="173.4" r="3.5"/>
<circle cx="109.1" cy="159.1" r="3.5"/>
<circle cx="110.5" cy="162.3" r="3.5"/>
<circle cx="200.6" cy="160.0" r="3.5"/>
<circle cx="156.3" cy="140.8" r="3.5"/>
<circle cx="187.5" cy="164.8" r="3.5"/>
<circle cx="109.5" cy="160.0" r="3.5"/>
<circle cx="105.2" cy="163.7" r="3.5"/>
<circle cx="180.2" cy="181.8" r="3.5"/>
<circle cx="127.6" cy="161.4" r="3.5"/>
<circle cx="138.8" cy="173.9" r="3.5"/>
<circle cx="177.2" cy="174.7" r="3.5"/>
<circle cx="161.1" cy="160.9" r="3.5"/>
<circle cx="131.6" cy="182.9" r="3.5"/>
<circle cx="203.0" cy="162.0" r="3.5"/>
<circle cx="131.1" cy="163.6" r="3.5"/>
<circle cx="180.5" cy="163.2" r="3.5"/>
<circle cx="194.4" cy="168.6" r="3.5"/>
<circle cx="129.0" cy="179.2" r="3.5"/>
<circle cx="172.4" cy="194.7" r="3.5"/>
<circle cx="175.7" cy="156.6" r="3.5"/>
<circle cx="149.2" cy="176.0" r="3.5"/>
<circle cx="119.3" cy="153.1" r="3.5"/>
<circle cx="139.8" cy="153.5" r="3.5"/>
<circle cx="107.5" cy="169.3" r="3.5"/>
<circle cx="175.7" cy="142.1" r="3.5"/>
<circle cx="141.7" cy="153.7" r="3.5"/>
<circle cx="188.2" cy="131.6" r="3.5"/>
<circle cx="197.8" cy="149.1" r="3.5"/>
<circle cx="115.5" cy="162.4" r="3.5"/>
<circle cx="191.0" cy="183.9" r="3.5"/>
<circle cx="169.0" cy="171.9" r="3.5"/>
<circle cx="114.8" cy="166.8" r="3.5"/>
<circle cx="137.1" cy="157.8" r="3.5"/>
<circle cx="133.4" cy="161.1" r="3.5"/>
<circle cx="224.7" cy="157.6" r="3.5"/>
<circle cx="248.5" cy="165.8" r="3.5"/>
<circle cx="208.1" cy="170.1" r="3.5"/>
<circle cx="223.7" cy="155.4" r="3.5"/>
<circle cx="233.1" cy="161.5" r="3.5"/>
<circle cx="246.9" cy="164.3" r="3.5"/>
<circle cx="206.6" cy="161.9" r="3.5"/>
<circle cx="206.8" cy="175.4" r="3.5"/>
<circle cx="230.8" cy="157.6" r="3.5"/>
<circle cx="223.7" cy="151.0" r="3.5"/>
<circle cx="219.4" cy="164.4" r="3.5"/>
<circle cx="241.0" cy="159.7" r="3.5"/>
<circle cx="212.0" cy="145.8" r="3.5"/>
<circle cx="240.9" cy="153.3" r="3.5"/>
<circle cx="237.5" cy="166.5" r="3.5"/>
<circle cx="250.4" cy="160.2" r="3.5"/>
<circle cx="250.3" cy="161.9" r="3.5"/>
<circle cx="251.0" cy="159.4" r="3.5"/>
<circle cx="225.3" cy="161.6" r="3.5"/>
<circle cx="232.8" cy="150.6" r="3.5"/>
<circle cx="243.7" cy="168.5" r="3.5"/>
<circle cx="214.2" cy="154.8" r="3.5"/>
<circle cx="239.2" cy="157.1" r="3.5"/>
<circle cx="244.7" cy="152.4" r="3.5"/>
<circle cx="212.8" cy="160.3" r="3.5"/>
<circle cx="216.0" cy="165.0" r="3.5"/>
<circle cx="241.2" cy="159.2" r="3.5"/>
<circle cx="218.8" cy="160.6" r="3.5"/>
<circle cx="232.3" cy="164.2" r="3.5"/>
<circle cx="254.6" cy="156.5" r="3.5"/>
<circle cx="211.6" cy="154.1" r="3.5"/>
<circle cx="255.0" cy="156.3" r="3.5"/>
<circle cx="242.7" cy="160.7" r="3.5"/>
<circle cx="211.8" cy="156.7" r="3.5"/>
<circle cx="225.7" cy="169.3" r="3.5"/>
<circle cx="240.7" cy="158.0" r="3.5"/>
<circle cx="237.7" cy="158.9" r="3.5"/>
<circle cx="226.5" cy="151.1" r="3.5"/>
<circle cx="251.3" cy="169.6" r="3.5"/>
<circle cx="227.3" cy="166.2" r="3.5"/>
<circle cx="242.1" cy="160.2" r="3.5"/>
<circle cx="248.6" cy="179.8" r="3.5"/>
<circle cx="238.2" cy="165.3" r="3.5"/>
<circle cx="211.4" cy="156.9" r="3.5"/>
<circle cx="245.1" cy="168.6" r="3.5"/>
<circle cx="227.4" cy="165.3" r="3.5"/>
<circle cx="237.2" cy="167.6" r="3.5"/>
<circle cx="244.9" cy="175.2" r="3.5"/>
<circle cx="208.5" cy="162.0" r="3.5"/>
<circle cx="214.5" cy="150.3" r="3.5"/>
<circle cx="211.6" cy="167.7" r="3.5"/>
<circle cx="233.2" cy="178.6" r="3.5"/>
<circle cx="247.4" cy="163.3" r="3.5"/>
<circle cx="226.8" cy="158.6" r="3.5"/>
<circle cx="225.9" cy="146.5" r="3.5"/>
<circle cx="212.6" cy="165.2" r="3.5"/>
<circle cx="220.1" cy="161.6" r="3.5"/>
<circle cx="207.2" cy="169.0" r="3.5"/>
<circle cx="223.9" cy="159.4" r="3.5"/>
<circle cx="217.6" cy="150.2" r="3.5"/>
<circle cx="217.4" cy="167.8" r="3.5"/>
<circle cx="225.9" cy="157.4" r="3.5"/>
<circle cx="315.6" cy="148.9" r="3.5"/>
<circle cx="290.5" cy="158.5" r="3.5"/>
<circle cx="316.3" cy="171.9" r="3.5"/>
<circle cx="296.3" cy="162.1" r="3.5"/>
<circle cx="317.4" cy="160.7" r="3.5"/>
<circle cx="283.6" cy="165.7" r="3.5"/>
<circle cx="287.3" cy="155.5" r="3.5"/>
<circle cx="276.6" cy="162.7" r="3.5"/>
<circle cx="278.1" cy="168.7" r="3.5"/>
<circle cx="304.5" cy="160.0" r="3.5"/>
<circle cx="324.4" cy="143.4" r="3.5"/>
<circle cx="322.7" cy="155.5" r="3.5"/>
<circle cx="266.2" cy="164.1" r="3.5"/>
<circle cx="256.7" cy="164.3" r="3.5"/>
<circle cx="304.3" cy="160.8" r="3.5"/>
<circle cx="273.1" cy="159.2" r="3.5"/>
<circle cx="281.4" cy="156.2" r="3.5"/>
<circle cx="268.2" cy="174.0" r="3.5"/>
<circle cx="300.7" cy="174.3" r="3.5"/>
<circle cx="314.0" cy="183.3" r="3.5"/>
<circle cx="270.4" cy="180.7" r="3.5"/>
<circle cx="288.2" cy="166.3" r="3.5"/>
<circle cx="296.8" cy="162.6" r="3.5"/>
<circle cx="292.2" cy="160.3" r="3.5"/>
<circle cx="290.3" cy="168.2" r="3.5"/>
<circle cx="295.7" cy="162.1" r="3.5"/>
<circle cx="256.3" cy="176.8" r="3.5"/>
<circle cx="305.0" cy="160.0" r="3.5"/>
<circle cx="283.5" cy="161.1" r="3.5"/>
<circle cx="302.9" cy="163.9" r="3.5"/>
<circle cx="257.9" cy="173.4" r="3.5"/>
<circle cx="293.5" cy="161.9" r="3.5"/>
<circle cx="308.9" cy="164.6" r="3.5"/>
<circle cx="280.8" cy="171.2" r="3.5"/>
<circle cx="294.6" cy="153.5" r="3.5"/>
<circle cx="271.4" cy="167.9" r="3.5"/>
<circle cx="316.9" cy="160.1" r="3.5"/>
<circle cx="317.0" cy="166.5" r="3.5"/>
<circle cx="293.2" cy="163.0" r="3.5"/>
<circle cx="304.2" cy="167.5" r="3.5"/>
<circle cx="277.9" cy="154.4" r="3.5"/>
<circle cx="302.7" cy="145.6" r="3.5"/>
<circle cx="321.2" cy="161.0" r="3.5"/>
<circle cx="259.5" cy="159.9" r="3.5"/>
<circle cx="323.9" cy="162.5" r="3.5"/>
<circle cx="304.4" cy="150.0" r="3.5"/>
<circle cx="301.4" cy="171.0" r="3.5"/>
<circle cx="307.3" cy="166.0" r="3.5"/>
<circle cx="305.1" cy="165.7" r="3.5"/>
<circle cx="312.1" cy="162.3" r="3.5"/>
<circle cx="313.0" cy="160.1" r="3.5"/>
<circle cx="304.2" cy="159.3" r="3.5"/>
<circle cx="297.3" cy="170.0" r="3.5"/>
<circle cx="278.1" cy="164.8" r="3.5"/>
<circle cx="303.2" cy="152.1" r="3.5"/>
<circle cx="259.9" cy="157.4" r="3.5"/>
<circle cx="315.7" cy="161.5" r="3.5"/>
<circle cx="323.7" cy="158.3" r="3.5"/>
<circle cx="299.5" cy="161.8" r="3.5"/>
<circle cx="328.3" cy="164.6" r="3.5"/>
<circle cx="303.4" cy="161.7" r="3.5"/>
<circle cx="267.0" cy="155.9" r="3.5"/>
<circle cx="264.8" cy="162.3" r="3.5"/>
<circle cx="262.3" cy="161.4" r="3.5"/>
<circle cx="308.9" cy="162.2" r="3.5"/>
<circle cx="310.0" cy="155.3" r="3.5"/>
<circle cx="308.5" cy="156.9" r="3.5"/>
<circle cx="309.7" cy="167.8" r="3.5"/>
<circle cx="289.8" cy="175.4" r="3.5"/>
<circle cx="274.6" cy="163.2" r="3.5"/>
<circle cx="256.9" cy="164.5" r="3.5"/>
<circle cx="316.2" cy="165.6" r="3.5"/>
<circle cx="268.1" cy="146.2" r="3.5"/>
<circle cx="291.7" cy="166.8" r="3.5"/>
<circle cx="288.2" cy="152.1" r="3.5"/>
<circle cx="266.5" cy="173.2" r="3.5"/>
<circle cx="380.6" cy="158.2" r="3.5"/>
<circle cx="360.9" cy="155.8" r="3.5"/>
<circle cx="375.5" cy="165.3" r="3.5"/>
<circle cx="334.6" cy="165.1" r="3.5"/>
<circle cx="356.5" cy="170.4" r="3.5"/>
<circle cx="408.7" cy="165.8" r="3.5"/>
<circle cx="364.3" cy="165.0" r="3.5"/>
<circle cx="360.1" cy="170.1" r="3.5"/>
<circle cx="395.0" cy="168.2" r="3.5"/>
<circle cx="329.8" cy="167.8" r="3.5"/>
<circle cx="395.7" cy="160.2" r="3.5"/>
<circle cx="333.1" cy="159.6" r="3.5"/>
<circle cx="375.9" cy="170.7" r="3.5"/>
<circle cx="398.5" cy="166.6" r="3.5"/>
<circle cx="357.7" cy="171.4" r="3.5"/>
<circle cx="374.5" cy="160.7" r="3.5"/>
<circle cx="405.0" cy="156.1" r="3.5"/>
<circle cx="378.8" cy="165.6" r="3.5"/>
<circle cx="350.3" cy="162.2" r="3.5"/>
<circle cx="393.7" cy="156.3" r="3.5"/>
<circle cx="392.1" cy="158.8" r="3.5"/>
<circle cx="376.6" cy="159.0" r="3.5"/>
<circle cx="368.2" cy="166.2" r="3.5"/>
<circle cx="345.0" cy="160.0" r="3.5"/>
<circle cx="359.0" cy="156.9" r="3.5"/>
<circle cx="362.2" cy="162.1" r="3.5"/>
<circle cx="410.3" cy="161.8" r="3.5"/>
<circle cx="338.3" cy="162.2" r="3.5"/>
<circle cx="378.0" cy="165.2" r="3.5"/>
<circle cx="399.7" cy="160.1" r="3.5"/>
<circle cx="375.6" cy="162.0" r="3.5"/>
<circle cx="406.2" cy="167.2" r="3.5"/>
<circle cx="395.9" cy="162.9" r="3.5"/>
<circle cx="345.9" cy="161.6" r="3.5"/>
<circle cx="336.4" cy="170.8" r="3.5"/>
<circle cx="366.7" cy="165.8" r="3.5"/>
<circle cx="403.3" cy="166.3" r="3.5"/>
<circle cx="339.4" cy="165.3" r="3.5"/>
<circle cx="350.5" cy="169.6" r="3.5"/>
<circle cx="383.8" cy="171.0" r="3.5"/>
<circle cx="347.6" cy="165.6" r="3.5"/>
<circle cx="350.4" cy="155.3" r="3.5"/>
<circle cx="448.8" cy="168.1" r="3.5"/>
<circle cx="446.5" cy="170.3" r="3.5"/>
<circle cx="413.1" cy="172.6" r="3.5"/>
<circle cx="445.1" cy="164.4" r="3.5"/>
<circle cx="437.6" cy="166.0" r="3.5"/>
<circle cx="415.4" cy="162.9" r="3.5"/>
<circle cx="432.6" cy="160.6" r="3.5"/>
<circle cx="421.5" cy="163.1" r="3.5"/>
<circle cx="443.4" cy="163.4" r="3.5"/>
<circle cx="412.2" cy="161.0" r="3.5"/>
<circle cx="417.0" cy="154.8" r="3.5"/>
<circle cx="449.1" cy="157.2" r="3.5"/>
<circle cx="431.2" cy="160.7" r="3.5"/>
<circle cx="439.3" cy="167.2" r="3.5"/>
<circle cx="420.7" cy="164.0" r="3.5"/>
<circle cx="417.2" cy="168.1" r="3.5"/>
<circle cx="422.7" cy="160.9" r="3.5"/>
<circle cx="449.0" cy="160.0" r="3.5"/>
<circle cx="418.2" cy="166.6" r="3.5"/>
<circle cx="415.8" cy="154.5" r="3.5"/>
<circle cx="413.2" cy="164.3" r="3.5"/>
<circle cx="432.4" cy="165.4" r="3.5"/>
<circle cx="422.4" cy="171.4" r="3.5"/>
<circle cx="415.0" cy="161.7" r="3.5"/>
<circle cx="443.8" cy="163.7" r="3.5"/>
<circle cx="455.3" cy="161.5" r="3.5"/>
<circle cx="417.0" cy="166.4" r="3.5"/>
<circle cx="448.6" cy="161.0" r="3.5"/>
<circle cx="478.7" cy="158.7" r="3.5"/>
<circle cx="470.4" cy="159.7" r="3.5"/>
<circle cx="473.8" cy="156.2" r="3.5"/>
<circle cx="458.2" cy="166.7" r="3.5"/>
<circle cx="463.0" cy="165.9" r="3.5"/>
</g>
<g fill="#e66101">
<path d="M92.4 17.1L96.2 23.5H88.6ZM116.5 72.0L120.3 78.4H112.7ZM83.2 73.4L87.0 79.8H79.4ZM110.1 74.4L113.9 80.8H106.3ZM122.1 76.9L125.9 83.3H118.3ZM111.1 80.3L114.9 86.7H107.3ZM104.5 82.9L108.3 89.3H100.7ZM126.7 86.9L130.5 93.3H122.9ZM102.1 91.8L105.9 98.2H98.3ZM106.1 103.4L109.9 109.8H102.3ZM126.1 104.4L129.9 110.8H122.3ZM119.1 117.4L122.9 123.8H115.3ZM101.1 120.4L104.9 126.8H97.3ZM98.1 125.4L101.9 131.8H94.3ZM111.1 123.4L114.9 129.8H107.3ZM115.1 126.4L118.9 132.8H111.3ZM122.1 127.4L125.9 133.8H118.3ZM102.1 131.4L105.9 137.8H98.3ZM117.1 132.4L120.9 138.8H113.3ZM127.1 132.4L130.9 138.8H123.3ZM79.0 209.3L82.8 215.7H75.2ZM92.0 211.3L95.8 217.7H88.2ZM93.6 217.0L97.4 223.4H89.8ZM101.1 202.9L104.9 209.3H97.3ZM112.1 202.3L115.9 208.7H108.3ZM100.1 190.3L103.9 196.7H96.3ZM107.1 226.4L110.9 232.8H103.3ZM118.7 221.0L122.5 227.4H114.9ZM125.7 222.8L129.5 229.2H121.9ZM122.5 207.7L126.3 214.1H118.7ZM128.1 210.7L131.9 217.1H124.3ZM110.7 246.8L114.5 253.2H106.9ZM127.1 197.3L130.9 203.7H123.3ZM123.1 195.3L126.9 201.7H119.3ZM118.1 195.3L121.9 201.7H114.3ZM112.1 193.3L115.9 199.7H108.3ZM121.1 190.3L124.9 196.7H117.3ZM111.1 185.3L114.9 191.7H107.3ZM127.1 184.3L130.9 190.7H123.3ZM81.0 279.4L84.8 285.8H77.2ZM81.1 140.5L84.9 146.9H77.3ZM85.4 141.7L89.2 148.1H81.6ZM89.3 140.5L93.1 146.9H85.5ZM97.0 136.8L100.8 143.2H93.2ZM95.4 141.7L99.2 148.1H91.6ZM102.4 139.4L106.2 145.8H98.6ZM98.5 128.2L102.3 134.6H94.7ZM91.6 175.3L95.4 181.7H87.8ZM95.4 174.1L99.2 180.5H91.6ZM178.8 74.5L182.6 80.9H175.0ZM176.6 92.8L180.4 99.2H172.8ZM191.0 106.7L194.8 113.1H187.2ZM188.6 109.1L192.4 115.5H184.8ZM142.5 82.2L146.3 88.6H138.7ZM166.0 100.0L169.8 106.4H162.2ZM161.8 98.5L165.6 104.9H158.0ZM139.1 90.4L142.9 96.8H135.3ZM159.2 103.9L163.0 110.3H155.4ZM204.7 123.5L208.5 129.9H200.9ZM132.5 97.9L136.3 104.3H128.7ZM161.8 116.5L165.6 122.9H158.0ZM172.2 119.7L176.0 126.1H168.4ZM152.2 115.1L156.0 121.5H148.4ZM191.2 129.4L195.0 135.8H187.4ZM170.2 124.6L174.0 131.0H166.4ZM173.2 127.7L177.0 134.1H169.4ZM175.6 130.8L179.4 137.2H171.8ZM182.2 134.6L186.0 141.0H178.4ZM185.2 133.0L189.0 139.4H181.4ZM154.2 125.6L158.0 132.0H150.4ZM160.2 128.4L164.0 134.8H156.4ZM167.2 132.4L171.0 138.8H163.4ZM166.2 134.7L170.0 141.1H162.4ZM191.2 136.9L195.0 143.3H187.4ZM195.3 139.6L199.1 146.0H191.5ZM198.3 142.6L202.1 149.0H194.5ZM138.1 127.6L141.9 134.0H134.3ZM142.5 128.4L146.3 134.8H138.7ZM176.2 138.1L180.0 144.5H172.4ZM185.2 140.2L189.0 146.6H181.4ZM201.3 144.9L205.1 151.3H197.5ZM240.5 113.9L244.3 120.3H236.7ZM219.0 115.5L222.8 121.9H215.2ZM321.6 135.1L325.4 141.5H317.8ZM220.0 125.7L223.8 132.1H216.2ZM207.2 128.0L211.0 134.4H203.4ZM289.2 136.0L293.0 142.4H285.4ZM318.2 139.2L322.0 145.6H314.4ZM299.6 139.7L303.4 146.1H295.8ZM244.5 135.6L248.3 142.0H240.7ZM290.8 140.8L294.6 147.2H287.0ZM291.2 141.7L295.0 148.1H287.4ZM226.7 134.6L230.5 141.0H222.9ZM230.7 135.8L234.5 142.2H226.9ZM220.0 134.7L223.8 141.1H216.2ZM283.2 142.7L287.0 149.1H279.4ZM261.7 141.8L265.5 148.2H257.9ZM268.5 144.8L272.3 151.2H264.7ZM265.1 146.2L268.9 152.6H261.3ZM215.6 141.8L219.4 148.2H211.8ZM298.2 148.1L302.0 154.5H294.4ZM308.2 148.6L312.0 155.0H304.4ZM213.0 144.9L216.8 151.3H209.2ZM242.5 147.3L246.3 153.7H238.7ZM271.5 149.1L275.3 155.5H267.7ZM250.1 149.6L253.9 156.0H246.3ZM283.2 150.9L287.0 157.3H279.4ZM234.1 149.0L237.9 155.4H230.3ZM223.0 148.1L226.8 154.5H219.2ZM264.1 151.2L267.9 157.6H260.3ZM274.1 151.6L277.9 158.0H270.3ZM342.4 145.8L346.2 152.2H338.6ZM354.6 147.2L358.4 153.6H350.8ZM388.1 147.4L391.9 153.8H384.3ZM386.5 149.0L390.3 155.4H382.7ZM427.8 151.1L431.6 157.5H424.0ZM438.4 151.7L442.2 158.1H434.6ZM413.8 153.0L417.6 159.4H410.0ZM417.6 153.0L421.4 159.4H413.8ZM431.4 153.3L435.2 159.7H427.6ZM438.4 153.8L442.2 160.2H434.6ZM403.7 153.7L407.5 160.1H399.9ZM445.4 155.0L449.2 161.4H441.6ZM434.6 155.3L438.4 161.7H430.8ZM138.7 199.9L142.5 206.3H134.9ZM150.2 191.4L154.0 197.8H146.4ZM158.8 187.4L162.6 193.8H155.0ZM142.1 189.8L145.9 196.2H138.3ZM153.8 197.3L157.6 203.7H150.0ZM163.8 193.1L167.6 199.5H160.0ZM168.6 193.2L172.4 199.6H164.8ZM172.2 197.2L176.0 203.6H168.4ZM176.2 196.0L180.0 202.4H172.4ZM151.8 207.2L155.6 213.6H148.0ZM144.1 215.3L147.9 221.7H140.3ZM149.8 212.2L153.6 218.6H146.0ZM147.2 219.3L151.0 225.7H143.4ZM171.2 206.6L175.0 213.0H167.4ZM184.6 196.8L188.4 203.2H180.8ZM188.6 188.4L192.4 194.8H184.8ZM196.3 188.1L200.1 194.5H192.5ZM193.8 197.8L197.6 204.2H190.0ZM200.3 196.1L204.1 202.5H196.5ZM142.7 240.9L146.5 247.3H138.9ZM207.3 197.7L211.1 204.1H203.5ZM174.2 174.8L178.0 181.2H170.4ZM179.2 176.6L183.0 183.0H175.4ZM184.2 174.2L188.0 180.6H180.4ZM192.6 172.5L196.4 178.9H188.8ZM202.3 171.3L206.1 177.7H198.5ZM193.2 179.1L197.0 185.5H189.4ZM131.5 261.4L135.3 267.8H127.7ZM212.0 171.5L215.8 177.9H208.2ZM219.0 170.3L222.8 176.7H215.2ZM208.4 175.0L212.2 181.4H204.6ZM225.7 173.1L229.5 179.5H221.9ZM240.1 169.3L243.9 175.7H236.3ZM248.1 169.1L251.9 175.5H244.3ZM257.1 170.1L260.9 176.5H253.3ZM250.7 172.4L254.5 178.8H246.9ZM256.7 173.7L260.5 180.1H252.9ZM263.1 174.2L266.9 180.6H259.3ZM267.7 173.6L271.5 180.0H263.9ZM270.1 175.0L273.9 181.4H266.3ZM234.1 176.6L237.9 183.0H230.3ZM236.7 177.2L240.5 183.6H232.9ZM245.7 176.6L249.5 183.0H241.9ZM228.5 181.1L232.3 187.5H224.7ZM249.1 179.3L252.9 185.7H245.3ZM227.1 184.5L230.9 190.9H223.3ZM235.7 186.9L239.5 193.3H231.9ZM247.1 187.5L250.9 193.9H243.3ZM222.4 198.5L226.2 204.9H218.6ZM260.5 193.1L264.3 199.5H256.7ZM281.2 170.7L285.0 177.1H277.4ZM284.6 169.2L288.4 175.6H280.8ZM287.2 167.9L291.0 174.3H283.4ZM299.6 172.3L303.4 178.7H295.8ZM298.2 167.2L302.0 173.6H294.4ZM303.2 166.9L307.0 173.3H299.4ZM309.2 167.6L313.0 174.0H305.4ZM313.8 167.2L317.6 173.6H310.0ZM329.3 166.2L333.1 172.6H325.5ZM318.8 170.6L322.6 177.0H315.0ZM324.2 169.7L328.0 176.1H320.4ZM324.6 171.4L328.4 177.8H320.8ZM307.2 175.6L311.0 182.0H303.4ZM318.2 174.5L322.0 180.9H314.4ZM320.2 175.5L324.0 181.9H316.4ZM290.8 178.5L294.6 184.9H287.0ZM292.8 180.7L296.6 187.1H289.0ZM332.3 176.3L336.1 182.7H328.5ZM336.3 174.6L340.1 181.0H332.5ZM337.3 179.0L341.1 185.4H333.5ZM272.1 167.1L275.9 173.5H268.3ZM353.6 165.1L357.4 171.5H349.8ZM362.7 165.2L366.5 171.6H358.9ZM385.7 164.7L389.5 171.1H381.9ZM395.7 165.1L399.5 171.5H391.9ZM400.1 164.5L403.9 170.9H396.3ZM406.6 165.4L410.4 171.8H402.8ZM420.8 166.5L424.6 172.9H417.0ZM404.1 167.7L407.9 174.1H400.3ZM410.2 168.9L414.0 175.3H406.4ZM424.2 168.3L428.0 174.7H420.4ZM431.4 168.1L435.2 174.5H427.6ZM459.7 167.1L463.5 173.5H455.9ZM390.1 171.7L393.9 178.1H386.3ZM386.5 172.8L390.3 179.2H382.7ZM398.5 172.1L402.3 178.5H394.7ZM455.9 170.8L459.7 177.2H452.1ZM341.0 179.7L344.8 186.1H337.2ZM392.7 177.9L396.5 184.3H388.9ZM435.2 164.1L439.0 170.5H431.4ZM352.0 187.1L355.8 193.5H348.2ZM442.0 157.9L445.8 164.3H438.2ZM449.0 158.0L452.8 164.4H445.2ZM452.6 158.5L456.4 164.9H448.8ZM459.6 159.5L463.4 165.9H455.8ZM466.7 158.9L470.5 165.3H462.9ZM476.7 159.5L480.5 165.9H472.9ZM481.1 159.2L484.9 165.6H477.3ZM474.1 160.6L477.9 167.0H470.3ZM464.0 160.7L467.8 167.1H460.2ZM449.0 161.6L452.8 168.0H445.2ZM452.6 162.5L456.4 168.9H448.8ZM459.6 162.6L463.4 169.0H455.8ZM440.0 162.0L443.8 168.4H436.2ZM561.4 158.8L565.2 165.2H557.6ZM572.1 159.4L575.9 165.8H568.3ZM568.7 160.1L572.5 166.5H564.9ZM579.5 159.4L583.3 165.8H575.7ZM586.1 160.9L589.9 167.3H582.3ZM589.7 161.7L593.5 168.1H585.9ZM220.0 144.0L223.8 150.4H216.2ZM225.7 151.5L229.5 157.9H221.9ZM304.2 154.7L308.0 161.1H300.4ZM319.2 154.2L323.0 160.6H315.4ZM294.2 155.7L298.0 162.1H290.4ZM325.9 156.5L329.7 162.9H322.1ZM336.3 155.3L340.1 161.7H332.5ZM275.8 154.7L279.6 161.1H272.0ZM254.1 154.4L257.9 160.8H250.3ZM260.1 155.6L263.9 162.0H256.3ZM209.0 153.6L212.8 160.0H205.2ZM219.0 154.9L222.8 161.3H215.2ZM315.2 156.6L319.0 163.0H311.4ZM320.2 157.7L324.0 164.1H316.4ZM235.1 165.4L238.9 171.8H231.3ZM240.1 166.8L243.9 173.2H236.3ZM265.1 165.9L268.9 172.3H261.3ZM279.2 165.0L283.0 171.4H275.4ZM283.2 164.4L287.0 170.8H279.4ZM308.2 165.5L312.0 171.9H304.4ZM320.2 169.7L324.0 176.1H316.4ZM293.2 163.2L297.0 169.6H289.4ZM254.1 165.2L257.9 171.6H250.3ZM212.0 166.2L215.8 172.6H208.2ZM203.0 164.6L206.8 171.0H199.2ZM337.3 163.7L341.1 170.1H333.5ZM328.3 162.8L332.1 169.2H324.5ZM334.3 158.4L338.1 164.8H330.5ZM417.2 156.3L421.0 162.7H413.4ZM421.2 157.4L425.0 163.8H417.4ZM427.8 157.5L431.6 163.9H424.0ZM371.1 157.8L374.9 164.2H367.3ZM361.1 158.0L364.9 164.4H357.3ZM381.7 157.8L385.5 164.2H377.9ZM394.5 157.5L398.3 163.9H390.7ZM399.1 159.1L402.9 165.5H395.3ZM418.2 158.0L422.0 164.4H414.4ZM371.1 163.5L374.9 169.9H367.3ZM377.1 163.1L380.9 169.5H373.3ZM390.1 164.0L393.9 170.4H386.3ZM410.2 163.2L414.0 169.6H406.4ZM413.8 163.6L417.6 170.0H410.0ZM434.2 162.4L438.0 168.8H430.4ZM345.0 161.6L348.8 168.0H341.2ZM351.0 162.2L354.8 168.6H347.2ZM334.4 162.2L338.2 168.6H330.6ZM357.1 161.9L360.9 168.3H353.3ZM372.1 161.5L375.9 167.9H368.3ZM383.1 162.1L386.9 168.5H379.3ZM404.1 162.2L407.9 168.6H400.3ZM428.2 161.3L432.0 167.7H424.4ZM129.5 201.3L133.3 207.7H125.7ZM144.5 204.3L148.3 210.7H140.7ZM134.1 193.3L137.9 199.7H130.3ZM130.1 189.3L133.9 195.7H126.3ZM139.1 183.3L142.9 189.7H135.3ZM148.2 183.3L152.0 189.7H144.4ZM456.0 160.4L459.8 166.8H452.2ZM95.1 161.5L98.9 167.9H91.3ZM98.1 156.7L101.9 163.1H94.3ZM91.0 158.2L94.8 164.6H87.2ZM96.5 152.3L100.3 158.7H92.7ZM99.3 166.2L103.1 172.6H95.5ZM104.3 163.6L108.1 170.0H100.5ZM92.5 148.2L96.3 154.6H88.7ZM93.1 170.0L96.9 176.4H89.3ZM98.2 157.8L102.0 164.2H94.4ZM100.1 151.5L103.9 157.9H96.3ZM96.9 169.1L100.7 175.5H93.1ZM100.8 156.2L104.6 162.6H97.0ZM147.2 160.1L151.0 166.5H143.4ZM120.1 154.2L123.9 160.6H116.3ZM182.6 153.6L186.4 160.0H178.8ZM175.5 165.8L179.3 172.2H171.7ZM163.7 144.8L167.5 151.2H159.9ZM188.4 163.5L192.2 169.9H184.6ZM106.9 155.9L110.7 162.3H103.1ZM110.6 152.0L114.4 158.4H106.8ZM144.5 151.7L148.3 158.1H140.7ZM112.8 163.6L116.6 170.0H109.0ZM188.1 161.3L191.9 167.7H184.3ZM141.2 144.5L145.0 150.9H137.4ZM202.3 158.6L206.1 165.0H198.5ZM128.4 168.9L132.2 175.3H124.6ZM105.0 165.2L108.8 171.6H101.2ZM201.8 151.7L205.6 158.1H198.0ZM157.2 161.2L161.0 167.6H153.4ZM196.3 162.2L200.1 168.6H192.5ZM193.8 166.5L197.6 172.9H190.0ZM115.1 154.5L118.9 160.9H111.3ZM125.9 160.6L129.7 167.0H122.1ZM104.6 154.5L108.4 160.9H100.8ZM107.2 165.6L111.0 172.0H103.4ZM130.3 161.5L134.1 167.9H126.5ZM141.7 149.1L145.5 155.5H137.9ZM113.3 155.2L117.1 161.6H109.5ZM189.1 151.0L192.9 157.4H185.3ZM158.5 157.8L162.3 164.2H154.7ZM160.0 171.8L163.8 178.2H156.2ZM192.6 163.9L196.4 170.3H188.8ZM131.2 153.7L135.0 160.1H127.4ZM158.9 141.6L162.7 148.0H155.1ZM138.2 152.9L142.0 159.3H134.4ZM188.1 157.9L191.9 164.3H184.3ZM140.9 152.6L144.7 159.0H137.1ZM107.4 149.4L111.2 155.8H103.6ZM202.1 150.8L205.9 157.2H198.3ZM202.0 163.3L205.8 169.7H198.2ZM127.1 155.3L130.9 161.7H123.3ZM168.2 152.8L172.0 159.2H164.4ZM171.2 169.7L175.0 176.1H167.4ZM113.2 172.9L117.0 179.3H109.4ZM181.1 152.1L184.9 158.5H177.3ZM138.5 135.4L142.3 141.8H134.7ZM203.7 165.9L207.5 172.3H199.9ZM178.5 154.1L182.3 160.5H174.7ZM117.5 166.1L121.3 172.5H113.7ZM119.5 162.0L123.3 168.4H115.7ZM140.3 157.6L144.1 164.0H136.5ZM203.6 158.6L207.4 165.0H199.8ZM158.3 181.6L162.1 188.0H154.5ZM188.8 156.7L192.6 163.1H185.0ZM130.3 158.6L134.1 165.0H126.5ZM131.0 150.7L134.8 157.1H127.2ZM118.0 146.8L121.8 153.2H114.2ZM164.1 181.7L167.9 188.1H160.3ZM155.8 146.2L159.6 152.6H152.0ZM158.0 162.1L161.8 168.5H154.2ZM105.0 151.8L108.8 158.2H101.2ZM178.6 149.5L182.4 155.9H174.8ZM137.8 184.1L141.6 190.5H134.0ZM115.4 159.3L119.2 165.7H111.6ZM183.4 151.8L187.2 158.2H179.6ZM161.9 148.7L165.7 155.1H158.1ZM167.1 165.7L170.9 172.1H163.3ZM156.8 173.7L160.6 180.1H153.0ZM153.3 154.8L157.1 161.2H149.5ZM175.9 152.1L179.7 158.5H172.1ZM161.7 162.6L165.5 169.0H157.9ZM190.3 156.8L194.1 163.2H186.5ZM112.0 150.7L115.8 157.1H108.2ZM184.5 153.3L188.3 159.7H180.7ZM120.3 166.2L124.1 172.6H116.5ZM194.6 155.5L198.4 161.9H190.8ZM205.5 155.1L209.3 161.5H201.7ZM157.2 155.2L161.0 161.6H153.4ZM124.6 160.7L128.4 167.1H120.8ZM161.1 155.4L164.9 161.8H157.3ZM168.2 158.3L172.0 164.7H164.4ZM115.3 156.6L119.1 163.0H111.5ZM132.2 171.3L136.0 177.7H128.4ZM188.1 155.9L191.9 162.3H184.3ZM119.8 169.0L123.6 175.4H116.0ZM113.7 165.8L117.5 172.2H109.9ZM112.0 178.7L115.8 185.1H108.2ZM113.1 147.8L116.9 154.2H109.3ZM150.9 170.1L154.7 176.5H147.1ZM131.9 163.8L135.7 170.2H128.1ZM158.3 157.3L162.1 163.7H154.5ZM109.7 161.5L113.5 167.9H105.9ZM182.0 156.6L185.8 163.0H178.2ZM155.6 159.9L159.4 166.3H151.8ZM130.1 158.1L133.9 164.5H126.3ZM179.4 155.3L183.2 161.7H175.6ZM199.9 156.2L203.7 162.6H196.1ZM188.1 166.3L191.9 172.7H184.3ZM144.7 158.5L148.5 164.9H140.9ZM174.7 170.2L178.5 176.6H170.9ZM176.7 143.5L180.5 149.9H172.9ZM145.9 156.7L149.7 163.1H142.1ZM111.8 159.7L115.6 166.1H108.0ZM113.2 144.8L117.0 151.2H109.4ZM133.3 165.8L137.1 172.2H129.5ZM134.5 149.8L138.3 156.2H130.7ZM131.4 144.2L135.2 150.6H127.6ZM203.8 158.9L207.6 165.3H200.0ZM136.2 143.8L140.0 150.2H132.4ZM104.7 158.2L108.5 164.6H100.9ZM125.1 159.1L128.9 165.5H121.3ZM113.7 159.1L117.5 165.5H109.9ZM135.6 165.5L139.4 171.9H131.8ZM181.1 165.7L184.9 172.1H177.3ZM177.6 166.4L181.4 172.8H173.8ZM205.0 157.8L208.8 164.2H201.2ZM178.4 141.3L182.2 147.7H174.6ZM195.6 155.1L199.4 161.5H191.8ZM179.4 151.8L183.2 158.2H175.6ZM156.0 147.9L159.8 154.3H152.2ZM186.7 176.6L190.5 183.0H182.9ZM174.2 170.5L178.0 176.9H170.4ZM128.0 154.9L131.8 161.3H124.2ZM115.3 166.7L119.1 173.1H111.5ZM168.5 160.3L172.3 166.7H164.7ZM185.9 159.5L189.7 165.9H182.1ZM155.9 161.8L159.7 168.2H152.1ZM179.7 160.7L183.5 167.1H175.9ZM112.2 163.8L116.0 170.2H108.4ZM180.0 169.2L183.8 175.6H176.2ZM153.4 158.9L157.2 165.3H149.6ZM182.8 161.9L186.6 168.3H179.0ZM119.6 159.7L123.4 166.1H115.8ZM162.5 163.2L166.3 169.6H158.7ZM110.8 168.3L114.6 174.7H107.0ZM173.5 163.9L177.3 170.3H169.7ZM152.1 159.9L155.9 166.3H148.3ZM195.7 151.8L199.5 158.2H191.9ZM106.4 143.4L110.2 149.8H102.6ZM150.4 171.2L154.2 177.6H146.6ZM126.0 141.1L129.8 147.5H122.2ZM119.0 161.7L122.8 168.1H115.2ZM188.2 148.7L192.0 155.1H184.4ZM128.2 162.6L132.0 169.0H124.4ZM105.0 171.0L108.8 177.4H101.2ZM118.9 164.5L122.7 170.9H115.1ZM104.8 155.6L108.6 162.0H101.0ZM199.1 163.2L202.9 169.6H195.3ZM196.5 161.9L200.3 168.3H192.7ZM206.5 153.8L210.3 160.2H202.7ZM141.4 159.5L145.2 165.9H137.6ZM115.0 166.9L118.8 173.3H111.2ZM130.0 144.4L133.8 150.8H126.2ZM156.7 167.6L160.5 174.0H152.9ZM194.8 143.9L198.6 150.3H191.0ZM168.9 146.7L172.7 153.1H165.1ZM178.0 161.3L181.8 167.7H174.2ZM179.3 159.3L183.1 165.7H175.5ZM133.8 168.0L137.6 174.4H130.0ZM199.1 162.6L202.9 169.0H195.3ZM135.0 156.7L138.8 163.1H131.2ZM204.2 161.1L208.0 167.5H200.4ZM161.4 162.6L165.2 169.0H157.6ZM121.7 145.8L125.5 152.2H117.9ZM155.3 146.1L159.1 152.5H151.5ZM150.5 168.7L154.3 175.1H146.7ZM124.2 157.0L128.0 163.4H120.4ZM129.0 165.2L132.8 171.6H125.2ZM181.0 163.4L184.8 169.8H177.2ZM143.0 155.8L146.8 162.2H139.2ZM110.9 160.1L114.7 166.5H107.1ZM155.9 153.8L159.7 160.2H152.1ZM132.2 162.5L136.0 168.9H128.4ZM145.4 149.4L149.2 155.8H141.6ZM193.6 161.5L197.4 167.9H189.8ZM107.9 169.3L111.7 175.7H104.1ZM164.5 167.1L168.3 173.5H160.7ZM188.8 146.3L192.6 152.7H185.0ZM203.7 158.2L207.5 164.6H199.9ZM157.9 155.0L161.7 161.4H154.1ZM200.6 168.2L204.4 174.6H196.8ZM151.2 176.9L155.0 183.3H147.4ZM170.4 157.3L174.2 163.7H166.6ZM169.5 153.6L173.3 160.0H165.7ZM116.0 160.8L119.8 167.2H112.2ZM144.2 159.9L148.0 166.3H140.4ZM135.3 160.5L139.1 166.9H131.5ZM202.4 152.6L206.2 159.0H198.6ZM128.5 149.6L132.3 156.0H124.7ZM135.9 161.5L139.7 167.9H132.1ZM155.4 167.7L159.2 174.1H151.6ZM172.7 155.6L176.5 162.0H168.9ZM127.7 153.6L131.5 160.0H123.9ZM174.2 157.6L178.0 164.0H170.4ZM156.1 166.8L159.9 173.2H152.3ZM203.5 158.6L207.3 165.0H199.7ZM127.2 169.3L131.0 175.7H123.4ZM155.2 148.1L159.0 154.5H151.4ZM127.4 173.1L131.2 179.5H123.6ZM119.5 142.3L123.3 148.7H115.7ZM119.1 157.0L122.9 163.4H115.3ZM196.2 162.8L200.0 169.2H192.4ZM199.6 170.8L203.4 177.2H195.8ZM123.5 163.1L127.3 169.5H119.7ZM172.4 162.0L176.2 168.4H168.6ZM121.8 160.6L125.6 167.0H118.0ZM202.0 156.7L205.8 163.1H198.2ZM202.9 163.3L206.7 169.7H199.1ZM188.4 154.4L192.2 160.8H184.6ZM109.6 136.3L113.4 142.7H105.8ZM124.3 160.4L128.1 166.8H120.5ZM146.5 158.9L150.3 165.3H142.7ZM108.1 155.0L111.9 161.4H104.3ZM180.8 163.2L184.6 169.6H177.0ZM139.2 151.6L143.0 158.0H135.4ZM131.3 165.1L135.1 171.5H127.5ZM136.9 149.3L140.7 155.7H133.1ZM198.1 159.3L201.9 165.7H194.3ZM200.8 159.2L204.6 165.6H197.0ZM202.2 150.2L206.0 156.6H198.4ZM144.0 165.0L147.8 171.4H140.2ZM199.2 158.0L203.0 164.4H195.4ZM186.4 152.4L190.2 158.8H182.6ZM166.5 166.0L170.3 172.4H162.7ZM137.2 158.7L141.0 165.1H133.4ZM124.7 159.3L128.5 165.7H120.9ZM108.0 177.9L111.8 184.3H104.2ZM131.6 153.1L135.4 159.5H127.8ZM177.0 156.9L180.8 163.3H173.2ZM128.5 166.1L132.3 172.5H124.7ZM180.9 162.1L184.7 168.5H177.1ZM190.3 161.1L194.1 167.5H186.5ZM162.4 159.6L166.2 166.0H158.6ZM129.8 163.4L133.6 169.8H126.0ZM120.2 165.5L124.0 171.9H116.4ZM145.0 169.3L148.8 175.7H141.2ZM187.0 159.9L190.8 166.3H183.2ZM205.7 165.3L209.5 171.7H201.9ZM190.3 156.9L194.1 163.3H186.5ZM108.7 156.6L112.5 163.0H104.9ZM203.8 152.4L207.6 158.8H200.0ZM192.9 161.0L196.7 167.4H189.1ZM131.1 151.8L134.9 158.2H127.3ZM165.4 161.2L169.2 167.6H161.6ZM126.8 156.0L130.6 162.4H123.0ZM130.6 165.6L134.4 172.0H126.8ZM105.7 161.3L109.5 167.7H101.9ZM136.4 162.6L140.2 169.0H132.6ZM185.7 155.5L189.5 161.9H181.9ZM144.9 156.8L148.7 163.2H141.1ZM169.8 156.2L173.6 162.6H166.0ZM146.4 152.4L150.2 158.8H142.6ZM136.0 166.8L139.8 173.2H132.2ZM141.0 152.6L144.8 159.0H137.2ZM192.7 163.4L196.5 169.8H188.9ZM178.8 157.6L182.6 164.0H175.0ZM105.2 147.2L109.0 153.6H101.4ZM146.0 167.2L149.8 173.6H142.2ZM106.1 179.4L109.9 185.8H102.3ZM113.7 171.1L117.5 177.5H109.9ZM119.5 174.2L123.3 180.6H115.7ZM115.7 146.8L119.5 153.2H111.9ZM124.7 142.8L128.5 149.2H120.9ZM153.8 164.0L157.6 170.4H150.0ZM199.0 155.8L202.8 162.2H195.2ZM188.7 162.3L192.5 168.7H184.9ZM184.7 165.4L188.5 171.8H180.9ZM189.2 155.7L193.0 162.1H185.4ZM126.8 160.2L130.6 166.6H123.0ZM117.1 173.2L120.9 179.6H113.3ZM108.8 163.4L112.6 169.8H105.0ZM190.1 163.1L193.9 169.5H186.3ZM168.5 162.6L172.3 169.0H164.7ZM147.4 176.9L151.2 183.3H143.6ZM150.2 156.0L154.0 162.4H146.4ZM107.0 158.7L110.8 165.1H103.2ZM182.5 165.4L186.3 171.8H178.7ZM152.9 158.6L156.7 165.0H149.1ZM117.7 155.6L121.5 162.0H113.9ZM156.6 160.7L160.4 167.1H152.8ZM179.4 162.6L183.2 169.0H175.6ZM156.8 163.9L160.6 170.3H153.0ZM201.6 159.7L205.4 166.1H197.8ZM192.0 161.4L195.8 167.8H188.2ZM198.0 159.2L201.8 165.6H194.2ZM185.0 151.5L188.8 157.9H181.2ZM181.7 158.1L185.5 164.5H177.9ZM196.0 158.8L199.8 165.2H192.2ZM155.8 165.7L159.6 172.1H152.0ZM125.8 159.7L129.6 166.1H122.0ZM108.3 146.5L112.1 152.9H104.5ZM173.9 150.6L177.7 157.0H170.1ZM116.3 168.3L120.1 174.7H112.5ZM193.6 165.9L197.4 172.3H189.8ZM168.8 151.4L172.6 157.8H165.0ZM185.9 154.8L189.7 161.2H182.1ZM141.3 160.4L145.1 166.8H137.5ZM149.7 159.4L153.5 165.8H145.9ZM188.2 160.7L192.0 167.1H184.4ZM169.8 173.1L173.6 179.5H166.0ZM136.5 163.7L140.3 170.1H132.7ZM108.0 164.1L111.8 170.5H104.2ZM156.9 153.5L160.7 159.9H153.1ZM171.2 157.3L175.0 163.7H167.4ZM104.9 155.6L108.7 162.0H101.1ZM127.5 164.6L131.3 171.0H123.7ZM168.2 142.5L172.0 148.9H164.4ZM129.4 147.7L133.2 154.1H125.6ZM114.4 177.6L118.2 184.0H110.6ZM145.6 151.7L149.4 158.1H141.8ZM161.9 159.0L165.7 165.4H158.1ZM170.4 153.3L174.2 159.7H166.6ZM129.9 169.6L133.7 176.0H126.1ZM109.1 153.6L112.9 160.0H105.3ZM110.5 158.0L114.3 164.4H106.7ZM200.6 158.2L204.4 164.6H196.8ZM156.3 143.5L160.1 149.9H152.5ZM187.5 160.7L191.3 167.1H183.7ZM109.5 154.8L113.3 161.2H105.7ZM105.2 159.9L109.0 166.3H101.4ZM180.2 170.5L184.0 176.9H176.4ZM127.6 157.6L131.4 164.0H123.8ZM138.8 169.0L142.6 175.4H135.0ZM177.2 166.6L181.0 173.0H173.4ZM161.1 158.1L164.9 164.5H157.3ZM131.6 178.5L135.4 184.9H127.8ZM203.0 159.2L206.8 165.6H199.2ZM131.1 159.9L134.9 166.3H127.3ZM180.5 159.7L184.3 166.1H176.7ZM194.4 162.6L198.2 169.0H190.6ZM129.0 175.6L132.8 182.0H125.2ZM172.4 179.2L176.2 185.6H168.6ZM175.7 155.8L179.5 162.2H171.9ZM149.2 169.6L153.0 176.0H145.4ZM119.3 147.7L123.1 154.1H115.5ZM139.8 151.1L143.6 157.5H136.0ZM107.5 168.1L111.3 174.5H103.7ZM175.7 147.0L179.5 153.4H171.9ZM141.7 151.5L145.5 157.9H137.9ZM188.2 142.6L192.0 149.0H184.4ZM197.8 152.6L201.6 159.0H194.0ZM115.5 158.3L119.3 164.7H111.7ZM191.0 170.8L194.8 177.2H187.2ZM169.0 165.3L172.8 171.7H165.2ZM114.8 163.8L118.6 170.2H111.0ZM137.1 154.7L140.9 161.1H133.3ZM133.4 157.6L137.2 164.0H129.6ZM224.7 157.4L228.5 163.8H220.9ZM248.5 160.8L252.3 167.2H244.7ZM208.1 163.0L211.9 169.4H204.3ZM223.7 156.5L227.5 162.9H219.9ZM233.1 159.2L236.9 165.6H229.3ZM246.9 160.3L250.7 166.7H243.1ZM206.6 159.2L210.4 165.6H202.8ZM206.8 165.6L210.6 172.0H203.0ZM230.8 157.6L234.6 164.0H227.0ZM223.7 154.6L227.5 161.0H219.9ZM219.4 160.4L223.2 166.8H215.6ZM241.0 158.5L244.8 164.9H237.2ZM212.0 151.8L215.8 158.2H208.2ZM240.9 156.0L244.7 162.4H237.1ZM237.5 161.2L241.3 167.6H233.7ZM250.4 158.8L254.2 165.2H246.6ZM250.3 159.4L254.1 165.8H246.5ZM251.0 158.5L254.8 164.9H247.2ZM225.3 159.1L229.1 165.5H221.5ZM232.8 154.7L236.6 161.1H229.0ZM243.7 161.9L247.5 168.3H239.9ZM214.2 156.0L218.0 162.4H210.4ZM239.2 157.5L243.0 163.9H235.4ZM244.7 155.8L248.5 162.2H240.9ZM212.8 158.5L216.6 164.9H209.0ZM216.0 160.6L219.8 167.0H212.2ZM241.2 158.3L245.0 164.7H237.4ZM218.8 158.7L222.6 165.1H215.0ZM232.3 160.3L236.1 166.7H228.5ZM254.6 157.5L258.4 163.9H250.8ZM211.6 155.6L215.4 162.0H207.8ZM255.0 157.4L258.8 163.8H251.2ZM242.7 158.9L246.5 165.3H238.9ZM211.8 156.8L215.6 163.2H208.0ZM225.7 162.4L229.5 168.8H221.9ZM240.7 157.9L244.5 164.3H236.9ZM237.7 158.2L241.5 164.6H233.9ZM226.5 154.8L230.3 161.2H222.7ZM251.3 162.2L255.1 168.6H247.5ZM227.3 161.1L231.1 167.5H223.5ZM242.1 158.7L245.9 165.1H238.3ZM248.6 166.0L252.4 172.4H244.8ZM238.2 160.7L242.0 167.1H234.4ZM211.4 156.9L215.2 163.3H207.6ZM245.1 161.9L248.9 168.3H241.3ZM227.4 160.7L231.2 167.1H223.6ZM237.2 161.6L241.0 168.0H233.4ZM244.9 164.4L248.7 170.8H241.1ZM208.5 159.3L212.3 165.7H204.7ZM214.5 154.0L218.3 160.4H210.7ZM211.6 161.9L215.4 168.3H207.8ZM233.2 166.1L237.0 172.5H229.4ZM247.4 159.9L251.2 166.3H243.6ZM226.8 157.9L230.6 164.3H223.0ZM225.9 152.8L229.7 159.2H222.1ZM212.6 160.7L216.4 167.1H208.8ZM220.1 159.1L223.9 165.5H216.3ZM207.2 162.6L211.0 169.0H203.4ZM223.9 158.2L227.7 164.6H220.1ZM217.6 154.1L221.4 160.5H213.8ZM217.4 161.9L221.2 168.3H213.6ZM225.9 157.4L229.7 163.8H222.1ZM315.6 156.0L319.4 162.4H311.8ZM290.5 158.5L294.3 164.9H286.7ZM316.3 162.3L320.1 168.7H312.5ZM296.3 159.6L300.1 166.0H292.5ZM317.4 159.2L321.2 165.6H313.6ZM283.6 160.7L287.4 167.1H279.8ZM287.3 157.5L291.1 163.9H283.5ZM276.6 159.7L280.4 166.1H272.8ZM278.1 161.7L281.9 168.1H274.3ZM304.5 159.0L308.3 165.4H300.7ZM324.4 154.7L328.2 161.1H320.6ZM322.7 157.9L326.5 164.3H318.9ZM266.2 160.2L270.0 166.6H262.4ZM256.7 160.2L260.5 166.6H252.9ZM304.3 159.2L308.1 165.6H300.5ZM273.1 158.6L276.9 165.0H269.3ZM281.4 157.7L285.2 164.1H277.6ZM268.2 163.5L272.0 169.9H264.4ZM300.7 163.2L304.5 169.6H296.9ZM314.0 165.5L317.8 171.9H310.2ZM270.4 165.7L274.2 172.1H266.6ZM288.2 160.9L292.0 167.3H284.4ZM296.8 159.7L300.6 166.1H293.0ZM292.2 159.0L296.0 165.4H288.4ZM290.3 161.4L294.1 167.8H286.5ZM295.7 159.6L299.5 166.0H291.9ZM256.3 164.7L260.1 171.1H252.5ZM305.0 159.0L308.8 165.4H301.2ZM283.5 159.2L287.3 165.6H279.7ZM302.9 160.1L306.7 166.5H299.1ZM257.9 163.5L261.7 169.9H254.1ZM293.5 159.5L297.3 165.9H289.7ZM308.9 160.3L312.7 166.7H305.1ZM280.8 162.4L284.6 168.8H277.0ZM294.6 157.0L298.4 163.4H290.8ZM271.4 161.5L275.2 167.9H267.6ZM316.9 159.1L320.7 165.5H313.1ZM317.0 160.8L320.8 167.2H313.2ZM293.2 159.9L297.0 166.3H289.4ZM304.2 161.2L308.0 167.6H300.4ZM277.9 157.1L281.7 163.5H274.1ZM302.7 154.8L306.5 161.2H298.9ZM321.2 159.3L325.0 165.7H317.4ZM259.5 158.7L263.3 165.1H255.7ZM323.9 159.8L327.7 166.2H320.1ZM304.4 156.1L308.2 162.5H300.6ZM301.4 162.2L305.2 168.6H297.6ZM307.3 160.7L311.1 167.1H303.5ZM305.1 160.6L308.9 167.0H301.3ZM312.1 159.7L315.9 166.1H308.3ZM313.0 159.1L316.8 165.5H309.2ZM304.2 158.8L308.0 165.2H300.4ZM297.3 161.9L301.1 168.3H293.5ZM278.1 160.4L281.9 166.8H274.3ZM303.2 156.7L307.0 163.1H299.4ZM259.9 157.9L263.7 164.3H256.1ZM315.7 159.4L319.5 165.8H311.9ZM323.7 158.6L327.5 165.0H319.9ZM299.5 159.5L303.3 165.9H295.7ZM328.3 160.3L332.1 166.7H324.5ZM303.4 159.5L307.2 165.9H299.6ZM267.0 157.4L270.8 163.8H263.2ZM264.8 159.6L268.6 166.0H261.0ZM262.3 159.2L266.1 165.6H258.5ZM308.9 159.6L312.7 166.0H305.1ZM310.0 157.7L313.8 164.1H306.2ZM308.5 158.1L312.3 164.5H304.7ZM309.7 161.2L313.5 167.6H305.9ZM289.8 163.6L293.6 170.0H286.0ZM274.6 159.9L278.4 166.3H270.8ZM256.9 160.3L260.7 166.7H253.1ZM316.2 160.6L320.0 167.0H312.4ZM268.1 154.2L271.9 160.6H264.3ZM291.7 161.0L295.5 167.4H287.9ZM288.2 156.5L292.0 162.9H284.4ZM266.5 163.3L270.3 169.7H262.7ZM380.6 158.9L384.4 165.3H376.8ZM360.9 158.2L364.7 164.6H357.1ZM375.5 160.4L379.3 166.8H371.7ZM334.6 160.4L338.4 166.8H330.8ZM356.5 161.7L360.3 168.1H352.7ZM408.7 160.5L412.5 166.9H404.9ZM364.3 160.4L368.1 166.8H360.5ZM360.1 161.5L363.9 167.9H356.3ZM395.0 161.0L398.8 167.4H391.2ZM329.8 161.1L333.6 167.5H326.0ZM395.7 159.3L399.5 165.7H391.9ZM333.1 159.0L336.9 165.4H329.3ZM375.9 161.6L379.7 168.0H372.1ZM398.5 160.7L402.3 167.1H394.7ZM357.7 161.9L361.5 168.3H353.9ZM374.5 159.4L378.3 165.8H370.7ZM405.0 158.5L408.8 164.9H401.2ZM378.8 160.5L382.6 166.9H375.0ZM350.3 159.7L354.1 166.1H346.5ZM393.7 158.5L397.5 164.9H389.9ZM392.1 159.0L395.9 165.4H388.3ZM376.6 159.0L380.4 165.4H372.8ZM368.2 160.6L372.0 167.0H364.4ZM345.0 159.2L348.8 165.6H341.2ZM359.0 158.5L362.8 164.9H355.2ZM362.2 159.7L366.0 166.1H358.4ZM410.3 159.7L414.1 166.1H406.5ZM338.3 159.7L342.1 166.1H334.5ZM378.0 160.4L381.8 166.8H374.2ZM399.7 159.3L403.5 165.7H395.9ZM375.6 159.7L379.4 166.1H371.8ZM406.2 160.8L410.0 167.2H402.4ZM395.9 159.9L399.7 166.3H392.1ZM345.9 159.6L349.7 166.0H342.1ZM336.4 161.9L340.2 168.3H332.6ZM366.7 160.6L370.5 167.0H362.9ZM403.3 160.6L407.1 167.0H399.5ZM339.4 160.5L343.2 166.9H335.6ZM350.5 161.5L354.3 167.9H346.7ZM383.8 161.7L387.6 168.1H380.0ZM347.6 160.5L351.4 166.9H343.8ZM350.4 158.0L354.2 164.4H346.6ZM448.8 160.9L452.6 167.3H445.0ZM446.5 161.3L450.3 167.7H442.7ZM413.1 161.8L416.9 168.2H409.3ZM445.1 160.2L448.9 166.6H441.3ZM437.6 160.5L441.4 166.9H433.8ZM415.4 159.9L419.2 166.3H411.6ZM432.6 159.5L436.4 165.9H428.8ZM421.5 160.0L425.3 166.4H417.7ZM443.4 160.0L447.2 166.4H439.6ZM412.2 159.5L416.0 165.9H408.4ZM417.0 158.3L420.8 164.7H413.2ZM449.1 158.9L452.9 165.3H445.3ZM431.2 159.5L435.0 165.9H427.4ZM439.3 160.7L443.1 167.1H435.5ZM420.7 160.1L424.5 166.5H416.9ZM417.2 160.9L421.0 167.3H413.4ZM422.7 159.5L426.5 165.9H418.9ZM449.0 159.4L452.8 165.8H445.2ZM418.2 160.6L422.0 167.0H414.4ZM415.8 158.3L419.6 164.7H412.0ZM413.2 160.2L417.0 166.6H409.4ZM432.4 160.4L436.2 166.8H428.6ZM422.4 161.6L426.2 168.0H418.6ZM415.0 159.7L418.8 166.1H411.2ZM443.8 160.1L447.6 166.5H440.0ZM455.3 159.7L459.1 166.1H451.5ZM417.0 160.6L420.8 167.0H413.2ZM448.6 159.6L452.4 166.0H444.8ZM478.7 159.2L482.5 165.6H474.9ZM470.4 159.4L474.2 165.8H466.6ZM473.8 158.8L477.6 165.2H470.0ZM458.2 160.6L462.0 167.0H454.4ZM463.0 160.5L466.8 166.9H459.2Z"/>
</g>
<rect x="76.45" y="98.60" width="545.13" height="130.40" fill="#969696" fill-opacity="0.30"/>
</g>
<path d="M94.03 326.80v-10.9M94.03 0.80v10.9M108.10 326.80v-5.9M108.10 0.80v5.9M122.17 326.80v-5.9M122.17 0.80v5.9M136.24 326.80v-5.9M136.24 0.80v5.9M150.31 326.80v-5.9M150.31 0.80v5.9M164.38 326.80v-10.9M164.38 0.80v10.9M178.44 326.80v-5.9M178.44 0.80v5.9M192.51 326.80v-5.9M192.51 0.80v5.9M206.58 326.80v-5.9M206.58 0.80v5.9M220.65 326.80v-5.9M220.65 0.80v5.9M234.72 326.80v-10.9M234.72 0.80v10.9M248.78 326.80v-5.9M248.78 0.80v5.9M262.85 326.80v-5.9M262.85 0.80v5.9M276.92 326.80v-5.9M276.92 0.80v5.9M290.99 326.80v-5.9M290.99 0.80v5.9M305.06 326.80v-10.9M305.06 0.80v10.9M319.12 326.80v-5.9M319.12 0.80v5.9M333.19 326.80v-5.9M333.19 0.80v5.9M347.26 326.80v-5.9M347.26 0.80v5.9M361.33 326.80v-5.9M361.33 0.80v5.9M375.39 326.80v-10.9M375.39 0.80v10.9M389.46 326.80v-5.9M389.46 0.80v5.9M403.53 326.80v-5.9M403.53 0.80v5.9M417.60 326.80v-5.9M417.60 0.80v5.9M431.67 326.80v-5.9M431.67 0.80v5.9M445.74 326.80v-10.9M445.74 0.80v10.9M459.80 326.80v-5.9M459.80 0.80v5.9M473.87 326.80v-5.9M473.87 0.80v5.9M487.94 326.80v-5.9M487.94 0.80v5.9M502.01 326.80v-5.9M502.01 0.80v5.9M516.08 326.80v-10.9M516.08 0.80v10.9M530.14 326.80v-5.9M530.14 0.80v5.9M544.21 326.80v-5.9M544.21 0.80v5.9M558.28 326.80v-5.9M558.28 0.80v5.9M572.35 326.80v-5.9M572.35 0.80v5.9M586.42 326.80v-10.9M586.42 0.80v10.9M600.48 326.80v-5.9M600.48 0.80v5.9M614.55 326.80v-5.9M614.55 0.80v5.9M76.45 320.28h5.9M76.45 307.24h5.9M76.45 294.20h10.9M76.45 281.16h5.9M76.45 268.12h5.9M76.45 255.08h5.9M76.45 242.04h5.9M76.45 229.00h10.9M76.45 215.96h5.9M76.45 202.92h5.9M76.45 189.88h5.9M76.45 176.84h5.9M76.45 163.80h10.9M76.45 150.76h5.9M76.45 137.72h5.9M76.45 124.68h5.9M76.45 111.64h5.9M76.45 98.60h10.9M76.45 85.56h5.9M76.45 72.52h5.9M76.45 59.48h5.9M76.45 46.44h5.9M76.45 33.40h10.9M76.45 20.36h5.9M76.45 7.32h5.9M621.59 294.20h-10.9M621.59 261.60h-5.9M621.59 229.00h-10.9M621.59 196.40h-5.9M621.59 163.80h-10.9M621.59 131.20h-5.9M621.59 98.60h-10.9M621.59 66.00h-5.9M621.59 33.40h-10.9" stroke="#000" stroke-width="0.9" fill="none"/>
<rect x="76.45" y="0.80" width="545.13" height="326.00" fill="none" stroke="#000" stroke-width="1.8"/>
<g font-family="'Liberation Sans', Arial, Helvetica, sans-serif">
<text transform="translate(96.4,353.1) scale(1.072,1)" text-anchor="middle" fill="#000" stroke="#000" stroke-width="0.15" font-size="18">100</text>
<text transform="translate(166.8,353.1) scale(1.072,1)" text-anchor="middle" fill="#000" stroke="#000" stroke-width="0.15" font-size="18">300</text>
<text transform="translate(237.1,353.1) scale(1.072,1)" text-anchor="middle" fill="#000" stroke="#000" stroke-width="0.15" font-size="18">500</text>
<text transform="translate(307.5,353.1) scale(1.072,1)" text-anchor="middle" fill="#000" stroke="#000" stroke-width="0.15" font-size="18">700</text>
<text transform="translate(377.8,353.1) scale(1.072,1)" text-anchor="middle" fill="#000" stroke="#000" stroke-width="0.15" font-size="18">900</text>
<text transform="translate(448.1,353.1) scale(1.072,1)" text-anchor="middle" fill="#000" stroke="#000" stroke-width="0.15" font-size="18">1100</text>
<text transform="translate(518.5,353.1) scale(1.072,1)" text-anchor="middle" fill="#000" stroke="#000" stroke-width="0.15" font-size="18">1300</text>
<text transform="translate(588.8,353.1) scale(1.072,1)" text-anchor="middle" fill="#000" stroke="#000" stroke-width="0.15" font-size="18">1500</text>
<text transform="translate(67.3,300.2) scale(1.072,1)" text-anchor="end" fill="#5e3c99" stroke="#5e3c99" stroke-width="0.15" font-size="18">−20</text>
<text transform="translate(67.3,235.0) scale(1.072,1)" text-anchor="end" fill="#5e3c99" stroke="#5e3c99" stroke-width="0.15" font-size="18">−10</text>
<text transform="translate(67.3,169.8) scale(1.072,1)" text-anchor="end" fill="#5e3c99" stroke="#5e3c99" stroke-width="0.15" font-size="18">0</text>
<text transform="translate(67.3,104.6) scale(1.072,1)" text-anchor="end" fill="#5e3c99" stroke="#5e3c99" stroke-width="0.15" font-size="18">10</text>
<text transform="translate(67.3,39.4) scale(1.072,1)" text-anchor="end" fill="#5e3c99" stroke="#5e3c99" stroke-width="0.15" font-size="18">20</text>
<text transform="translate(627.8,300.6) scale(1.072,1)" text-anchor="start" fill="#e66101" stroke="#e66101" stroke-width="0.15" font-size="18">−10</text>
<text transform="translate(627.8,235.4) scale(1.072,1)" text-anchor="start" fill="#e66101" stroke="#e66101" stroke-width="0.15" font-size="18">−5</text>
<text transform="translate(632.9,170.2) scale(1.072,1)" text-anchor="start" fill="#e66101" stroke="#e66101" stroke-width="0.15" font-size="18">0</text>
<text transform="translate(632.9,105.0) scale(1.072,1)" text-anchor="start" fill="#e66101" stroke="#e66101" stroke-width="0.15" font-size="18">5</text>
<text transform="translate(632.9,39.8) scale(1.072,1)" text-anchor="start" fill="#e66101" stroke="#e66101" stroke-width="0.15" font-size="18">10</text>
<text transform="translate(543.6,94.6) scale(1.072,1)" text-anchor="start" fill="#5e3c99" stroke="#5e3c99" stroke-width="0.15" font-size="18">±10 cm<tspan font-size="10" dy="-5.2">-1</tspan></text>
<text transform="translate(616.0,247.8) scale(1.072,1)" text-anchor="end" fill="#e66101" stroke="#e66101" stroke-width="0.15" font-size="18">±5%</text>
<text transform="translate(255,383.9)" text-anchor="start" fill="#000" stroke="#000" stroke-width="0.15" font-size="22.0">Raman shift (cm<tspan font-size="16.5" dy="-11" dx="0.9">−1</tspan><tspan dy="11" dx="1.3">)</tspan></text>
<text transform="translate(23.5,313.0) rotate(-90) scale(1.02,1)" text-anchor="start" fill="#5e3c99" stroke="#5e3c99" stroke-width="0.15" font-size="22.0">Wavenumber deviation (cm<tspan font-size="15.5" dy="-11">−1</tspan><tspan dy="11">)</tspan></text>
<text transform="translate(680.6,270.8) rotate(-90)" text-anchor="start" fill="#e66101" stroke="#e66101" stroke-width="0.15" font-size="22.0">Relative deviation (%)</text>
</g>
</svg>
</body></html>
